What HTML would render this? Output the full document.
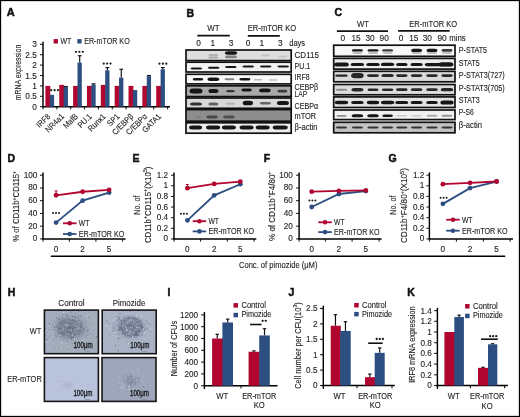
<!DOCTYPE html>
<html><head><meta charset="utf-8"><style>
html,body{margin:0;padding:0;background:#fff;}
#f{position:relative;width:520px;height:417px;overflow:hidden;background:#fff;}
svg{position:absolute;left:0;top:0;font-family:"Liberation Sans", sans-serif;will-change:transform;}
text{stroke:#1e1e1e;stroke-width:0.12px;}
text.pl{stroke:#111;stroke-width:0.5px;}
</style></head><body><div id="f">
<svg width="520" height="417" viewBox="0 0 520 417" fill="#1e1e1e">
<defs>
<filter id="bl" x="-30%" y="-120%" width="160%" height="340%"><feGaussianBlur stdDeviation="0.75"/></filter>
<filter id="sp" x="-10%" y="-10%" width="120%" height="120%"><feGaussianBlur stdDeviation="0.3"/></filter>
<filter id="rb" x="-20%" y="-20%" width="140%" height="140%"><feGaussianBlur stdDeviation="1.2"/></filter>
<radialGradient id="cl"><stop offset="0" stop-color="#4a5268" stop-opacity="0.8"/><stop offset="0.5" stop-color="#5c667e" stop-opacity="0.55"/><stop offset="1" stop-color="#7f889c" stop-opacity="0"/></radialGradient>
</defs>
<rect x="0.5" y="0.5" width="519" height="416" fill="#fff" stroke="#000" stroke-width="1.3"/>
<text x="6.80" y="16.20" font-size="11" font-weight="bold" fill="#111" class="pl">A</text>
<line x1="43.00" y1="41.70" x2="43.00" y2="107.40" stroke="#000" stroke-width="1.45"/>
<line x1="40.00" y1="106.70" x2="43.00" y2="106.70" stroke="#111" stroke-width="1"/>
<text x="36.90" y="109.70" font-size="8.3" text-anchor="end" >0</text>
<line x1="40.00" y1="96.30" x2="43.00" y2="96.30" stroke="#111" stroke-width="1"/>
<text x="36.90" y="99.30" font-size="8.3" text-anchor="end" >0.5</text>
<line x1="40.00" y1="85.90" x2="43.00" y2="85.90" stroke="#111" stroke-width="1"/>
<text x="36.90" y="88.90" font-size="8.3" text-anchor="end" >1</text>
<line x1="40.00" y1="75.50" x2="43.00" y2="75.50" stroke="#111" stroke-width="1"/>
<text x="36.90" y="78.50" font-size="8.3" text-anchor="end" >1.5</text>
<line x1="40.00" y1="65.10" x2="43.00" y2="65.10" stroke="#111" stroke-width="1"/>
<text x="36.90" y="68.10" font-size="8.3" text-anchor="end" >2</text>
<line x1="40.00" y1="54.70" x2="43.00" y2="54.70" stroke="#111" stroke-width="1"/>
<text x="36.90" y="57.70" font-size="8.3" text-anchor="end" >2.5</text>
<line x1="40.00" y1="44.30" x2="43.00" y2="44.30" stroke="#111" stroke-width="1"/>
<text x="36.90" y="47.30" font-size="8.3" text-anchor="end" >3</text>
<line x1="42.30" y1="106.70" x2="170.00" y2="106.70" stroke="#000" stroke-width="1.45"/>
<line x1="43.00" y1="106.70" x2="43.00" y2="109.50" stroke="#111" stroke-width="1"/>
<line x1="56.85" y1="106.70" x2="56.85" y2="109.50" stroke="#111" stroke-width="1"/>
<line x1="70.70" y1="106.70" x2="70.70" y2="109.50" stroke="#111" stroke-width="1"/>
<line x1="84.55" y1="106.70" x2="84.55" y2="109.50" stroke="#111" stroke-width="1"/>
<line x1="98.40" y1="106.70" x2="98.40" y2="109.50" stroke="#111" stroke-width="1"/>
<line x1="112.25" y1="106.70" x2="112.25" y2="109.50" stroke="#111" stroke-width="1"/>
<line x1="126.10" y1="106.70" x2="126.10" y2="109.50" stroke="#111" stroke-width="1"/>
<line x1="139.95" y1="106.70" x2="139.95" y2="109.50" stroke="#111" stroke-width="1"/>
<line x1="153.80" y1="106.70" x2="153.80" y2="109.50" stroke="#111" stroke-width="1"/>
<line x1="167.65" y1="106.70" x2="167.65" y2="109.50" stroke="#111" stroke-width="1"/>
<rect x="45.40" y="85.90" width="4.90" height="20.80" fill="#b0062f" />
<rect x="49.80" y="94.84" width="4.30" height="11.86" fill="#2c4e80" />
<text x="50.82" y="117.00" font-size="8.3" text-anchor="end" textLength="15.83" lengthAdjust="spacingAndGlyphs" transform="rotate(-45 50.82 117.00)" >IRF8</text>
<line x1="65.85" y1="86.94" x2="65.85" y2="86.52" stroke="#111" stroke-width="1.15"/>
<line x1="63.95" y1="86.52" x2="67.75" y2="86.52" stroke="#111" stroke-width="1.15"/>
<rect x="59.25" y="84.86" width="4.90" height="21.84" fill="#b0062f" />
<rect x="63.65" y="86.94" width="4.30" height="19.76" fill="#2c4e80" />
<text x="64.67" y="117.00" font-size="8.3" text-anchor="end" textLength="22.73" lengthAdjust="spacingAndGlyphs" transform="rotate(-45 64.67 117.00)" >NR4a1</text>
<line x1="79.70" y1="62.60" x2="79.70" y2="55.74" stroke="#111" stroke-width="1.15"/>
<line x1="77.80" y1="55.74" x2="81.60" y2="55.74" stroke="#111" stroke-width="1.15"/>
<rect x="73.10" y="85.90" width="4.90" height="20.80" fill="#b0062f" />
<rect x="77.50" y="62.60" width="4.30" height="44.10" fill="#2c4e80" />
<text x="78.53" y="117.00" font-size="8.3" text-anchor="end" textLength="17.05" lengthAdjust="spacingAndGlyphs" transform="rotate(-45 78.53 117.00)" >MafB</text>
<line x1="93.55" y1="84.44" x2="93.55" y2="83.82" stroke="#111" stroke-width="1.15"/>
<line x1="91.65" y1="83.82" x2="95.45" y2="83.82" stroke="#111" stroke-width="1.15"/>
<rect x="86.95" y="85.90" width="4.90" height="20.80" fill="#b0062f" />
<rect x="91.35" y="84.44" width="4.30" height="22.26" fill="#2c4e80" />
<text x="92.38" y="117.00" font-size="8.3" text-anchor="end" textLength="16.24" lengthAdjust="spacingAndGlyphs" transform="rotate(-45 92.38 117.00)" >PU.1</text>
<line x1="107.40" y1="70.30" x2="107.40" y2="67.60" stroke="#111" stroke-width="1.15"/>
<line x1="105.50" y1="67.60" x2="109.30" y2="67.60" stroke="#111" stroke-width="1.15"/>
<rect x="100.80" y="84.86" width="4.90" height="21.84" fill="#b0062f" />
<rect x="105.20" y="70.30" width="4.30" height="36.40" fill="#2c4e80" />
<text x="106.23" y="117.00" font-size="8.3" text-anchor="end" textLength="21.11" lengthAdjust="spacingAndGlyphs" transform="rotate(-45 106.23 117.00)" >Runx1</text>
<line x1="121.25" y1="77.58" x2="121.25" y2="69.26" stroke="#111" stroke-width="1.15"/>
<line x1="119.35" y1="69.26" x2="123.15" y2="69.26" stroke="#111" stroke-width="1.15"/>
<rect x="114.65" y="85.90" width="4.90" height="20.80" fill="#b0062f" />
<rect x="119.05" y="77.58" width="4.30" height="29.12" fill="#2c4e80" />
<text x="120.08" y="117.00" font-size="8.3" text-anchor="end" textLength="13.81" lengthAdjust="spacingAndGlyphs" transform="rotate(-45 120.08 117.00)" >SP1</text>
<rect x="128.50" y="85.90" width="4.90" height="20.80" fill="#b0062f" />
<rect x="132.90" y="90.06" width="4.30" height="16.64" fill="#2c4e80" />
<text x="133.93" y="117.00" font-size="8.3" text-anchor="end" textLength="26.12" lengthAdjust="spacingAndGlyphs" transform="rotate(-45 133.93 117.00)" >C/EBP&#946;</text>
<line x1="148.95" y1="76.12" x2="148.95" y2="75.50" stroke="#111" stroke-width="1.15"/>
<line x1="147.05" y1="75.50" x2="150.85" y2="75.50" stroke="#111" stroke-width="1.15"/>
<rect x="142.35" y="85.90" width="4.90" height="20.80" fill="#b0062f" />
<rect x="146.75" y="76.12" width="4.30" height="30.58" fill="#2c4e80" />
<text x="147.78" y="117.00" font-size="8.3" text-anchor="end" textLength="26.14" lengthAdjust="spacingAndGlyphs" transform="rotate(-45 147.78 117.00)" >C/EBP&#945;</text>
<line x1="162.80" y1="69.26" x2="162.80" y2="67.60" stroke="#111" stroke-width="1.15"/>
<line x1="160.90" y1="67.60" x2="164.70" y2="67.60" stroke="#111" stroke-width="1.15"/>
<rect x="156.20" y="85.90" width="4.90" height="20.80" fill="#b0062f" />
<rect x="160.60" y="69.26" width="4.30" height="37.44" fill="#2c4e80" />
<text x="161.63" y="117.00" font-size="8.3" text-anchor="end" textLength="22.86" lengthAdjust="spacingAndGlyphs" transform="rotate(-45 161.63 117.00)" >GATA1</text>
<circle cx="51.20" cy="90.20" r="1.1" fill="#1a1a1a"/>
<circle cx="54.60" cy="90.20" r="1.1" fill="#1a1a1a"/>
<circle cx="58.00" cy="90.20" r="1.1" fill="#1a1a1a"/>
<circle cx="76.00" cy="51.80" r="1.1" fill="#1a1a1a"/>
<circle cx="79.40" cy="51.80" r="1.1" fill="#1a1a1a"/>
<circle cx="82.80" cy="51.80" r="1.1" fill="#1a1a1a"/>
<circle cx="103.70" cy="63.60" r="1.1" fill="#1a1a1a"/>
<circle cx="107.10" cy="63.60" r="1.1" fill="#1a1a1a"/>
<circle cx="110.50" cy="63.60" r="1.1" fill="#1a1a1a"/>
<circle cx="159.50" cy="63.70" r="1.1" fill="#1a1a1a"/>
<circle cx="162.90" cy="63.70" r="1.1" fill="#1a1a1a"/>
<circle cx="166.30" cy="63.70" r="1.1" fill="#1a1a1a"/>
<rect x="53.60" y="39.10" width="4.40" height="4.40" fill="#b0062f" />
<text x="60.40" y="43.50" font-size="8.6" textLength="10.8" lengthAdjust="spacingAndGlyphs" >WT</text>
<rect x="77.30" y="39.10" width="4.30" height="4.40" fill="#2c4e80" />
<text x="84.20" y="43.50" font-size="8.6" textLength="45.5" lengthAdjust="spacingAndGlyphs" >ER-mTOR KO</text>
<text x="20.90" y="72.50" font-size="8.6" text-anchor="middle" textLength="55.5" lengthAdjust="spacingAndGlyphs" transform="rotate(-90 20.90 72.50)" >mRNA expression</text>
<text x="186.40" y="16.80" font-size="10.5" font-weight="bold" fill="#111" class="pl">B</text>
<text x="213.50" y="31.30" font-size="8.5" text-anchor="middle" textLength="12.4" lengthAdjust="spacingAndGlyphs" >WT</text>
<line x1="197.30" y1="35.60" x2="229.80" y2="35.60" stroke="#111" stroke-width="1.7"/>
<text x="272.00" y="31.40" font-size="8.5" text-anchor="middle" textLength="48.4" lengthAdjust="spacingAndGlyphs" >ER-mTOR KO</text>
<line x1="247.80" y1="35.80" x2="279.80" y2="35.80" stroke="#111" stroke-width="1.7"/>
<text x="198.60" y="45.60" font-size="8.3" text-anchor="middle" >0</text>
<text x="212.70" y="45.60" font-size="8.3" text-anchor="middle" >1</text>
<text x="231.00" y="45.60" font-size="8.3" text-anchor="middle" >3</text>
<text x="248.00" y="45.60" font-size="8.3" text-anchor="middle" >0</text>
<text x="261.90" y="45.60" font-size="8.3" text-anchor="middle" >1</text>
<text x="280.40" y="45.60" font-size="8.3" text-anchor="middle" >3</text>
<text x="289.30" y="45.60" font-size="8.3" textLength="15.8" lengthAdjust="spacingAndGlyphs" >days</text>
<rect x="186.00" y="50.00" width="105.20" height="10.60" fill="#dedede" stroke="#111" stroke-width="1.7"/>
<rect x="186.00" y="62.20" width="105.20" height="9.80" fill="#f3f3f3" stroke="#111" stroke-width="1.7"/>
<rect x="186.00" y="74.30" width="105.20" height="9.60" fill="#f9f9f9" stroke="#111" stroke-width="1.7"/>
<rect x="186.00" y="85.80" width="105.20" height="10.80" fill="#a9a9a9" stroke="#111" stroke-width="1.7"/>
<rect x="186.00" y="98.00" width="105.20" height="10.30" fill="#d9d9d9" stroke="#111" stroke-width="1.7"/>
<rect x="186.00" y="109.60" width="105.20" height="11.60" fill="#8e8e8e" stroke="#111" stroke-width="1.7"/>
<rect x="186.00" y="122.80" width="105.20" height="10.40" fill="#ececec" stroke="#111" stroke-width="1.7"/>
<rect x="224.75" y="51.20" width="12.50" height="3.60" rx="2.80" ry="1.80" fill="rgb(20,20,20)" filter="url(#bl)"/>
<rect x="225.00" y="55.60" width="12.00" height="2.60" rx="2.30" ry="1.30" fill="rgb(130,130,130)" filter="url(#bl)"/>
<rect x="208.40" y="54.00" width="10.00" height="2.00" rx="2.00" ry="1.00" fill="rgb(180,180,180)" filter="url(#bl)"/>
<rect x="208.40" y="56.50" width="10.00" height="2.00" rx="2.00" ry="1.00" fill="rgb(170,170,170)" filter="url(#bl)"/>
<rect x="260.90" y="54.50" width="9.00" height="2.00" rx="2.00" ry="1.00" fill="rgb(196,196,196)" filter="url(#bl)"/>
<rect x="278.40" y="55.50" width="9.00" height="2.00" rx="2.00" ry="1.00" fill="rgb(200,200,200)" filter="url(#bl)"/>
<rect x="190.55" y="67.50" width="11.50" height="2.00" rx="2.00" ry="1.00" fill="rgb(20,20,20)" filter="url(#bl)"/>
<rect x="207.95" y="66.80" width="11.50" height="2.00" rx="2.00" ry="1.00" fill="rgb(20,20,20)" filter="url(#bl)"/>
<rect x="225.05" y="66.00" width="11.50" height="2.00" rx="2.00" ry="1.00" fill="rgb(20,20,20)" filter="url(#bl)"/>
<rect x="242.45" y="65.50" width="11.50" height="2.00" rx="2.00" ry="1.00" fill="rgb(20,20,20)" filter="url(#bl)"/>
<rect x="259.95" y="65.40" width="11.50" height="2.00" rx="2.00" ry="1.00" fill="rgb(20,20,20)" filter="url(#bl)"/>
<rect x="277.45" y="65.40" width="11.50" height="2.00" rx="2.00" ry="1.00" fill="rgb(20,20,20)" filter="url(#bl)"/>
<rect x="192.75" y="78.10" width="10.50" height="2.40" rx="2.20" ry="1.20" fill="rgb(20,20,20)" filter="url(#bl)"/>
<rect x="207.40" y="77.50" width="12.00" height="3.60" rx="2.80" ry="1.80" fill="rgb(20,20,20)" filter="url(#bl)"/>
<rect x="224.50" y="78.30" width="10.00" height="2.00" rx="2.00" ry="1.00" fill="rgb(130,130,130)" filter="url(#bl)"/>
<rect x="239.40" y="78.10" width="11.00" height="2.40" rx="2.20" ry="1.20" fill="rgb(20,20,20)" filter="url(#bl)"/>
<rect x="253.50" y="79.00" width="9.00" height="1.60" rx="1.80" ry="0.80" fill="rgb(180,180,180)" filter="url(#bl)"/>
<rect x="268.50" y="79.20" width="9.00" height="1.60" rx="1.80" ry="0.80" fill="rgb(190,190,190)" filter="url(#bl)"/>
<rect x="189.50" y="88.50" width="13.00" height="5.00" rx="3.50" ry="2.50" fill="rgb(20,20,20)" filter="url(#bl)"/>
<rect x="208.40" y="89.00" width="10.00" height="4.00" rx="3.00" ry="2.00" fill="rgb(20,20,20)" filter="url(#bl)"/>
<rect x="226.20" y="90.10" width="8.60" height="2.20" rx="2.10" ry="1.10" fill="rgb(50,50,50)" filter="url(#bl)"/>
<rect x="241.35" y="88.60" width="10.50" height="2.80" rx="2.40" ry="1.40" fill="rgb(20,20,20)" filter="url(#bl)"/>
<rect x="259.15" y="88.50" width="11.50" height="3.80" rx="2.90" ry="1.90" fill="rgb(20,20,20)" filter="url(#bl)"/>
<rect x="277.40" y="89.80" width="10.00" height="2.80" rx="2.40" ry="1.40" fill="rgb(59,59,59)" filter="url(#bl)"/>
<rect x="190.00" y="102.40" width="12.00" height="3.00" rx="2.50" ry="1.50" fill="rgb(50,50,50)" filter="url(#bl)"/>
<rect x="208.40" y="102.40" width="10.00" height="3.00" rx="2.50" ry="1.50" fill="rgb(100,100,100)" filter="url(#bl)"/>
<rect x="225.80" y="102.80" width="9.40" height="2.00" rx="2.00" ry="1.00" fill="rgb(180,180,180)" filter="url(#bl)"/>
<rect x="242.75" y="100.70" width="10.30" height="4.60" rx="3.30" ry="2.30" fill="rgb(20,20,20)" filter="url(#bl)"/>
<rect x="259.90" y="101.90" width="11.00" height="2.60" rx="2.30" ry="1.30" fill="rgb(100,100,100)" filter="url(#bl)"/>
<rect x="276.90" y="101.00" width="12.00" height="4.00" rx="3.00" ry="2.00" fill="rgb(20,20,20)" filter="url(#bl)"/>
<rect x="195.05" y="116.10" width="6.50" height="2.20" rx="2.10" ry="1.10" fill="rgb(130,130,130)" filter="url(#bl)"/>
<rect x="206.20" y="115.60" width="11.60" height="2.80" rx="2.40" ry="1.40" fill="rgb(70,70,70)" filter="url(#bl)"/>
<rect x="223.15" y="115.60" width="11.70" height="2.80" rx="2.40" ry="1.40" fill="rgb(80,80,80)" filter="url(#bl)"/>
<rect x="189.10" y="125.60" width="13.00" height="3.80" rx="2.90" ry="1.90" fill="rgb(20,20,20)" filter="url(#bl)"/>
<rect x="206.10" y="125.60" width="14.00" height="3.80" rx="2.90" ry="1.90" fill="rgb(20,20,20)" filter="url(#bl)"/>
<rect x="221.90" y="125.60" width="14.00" height="3.80" rx="2.90" ry="1.90" fill="rgb(20,20,20)" filter="url(#bl)"/>
<rect x="239.60" y="125.60" width="14.00" height="3.80" rx="2.90" ry="1.90" fill="rgb(20,20,20)" filter="url(#bl)"/>
<rect x="255.70" y="125.60" width="14.00" height="3.80" rx="2.90" ry="1.90" fill="rgb(20,20,20)" filter="url(#bl)"/>
<rect x="272.70" y="125.60" width="15.00" height="3.80" rx="2.90" ry="1.90" fill="rgb(20,20,20)" filter="url(#bl)"/>
<text x="294.60" y="57.80" font-size="8.2" textLength="24.3" lengthAdjust="spacingAndGlyphs" >CD115</text>
<text x="294.60" y="69.00" font-size="8.2" textLength="15.6" lengthAdjust="spacingAndGlyphs" >PU.1</text>
<text x="294.60" y="79.70" font-size="8.2" textLength="15.0" lengthAdjust="spacingAndGlyphs" >IRF8</text>
<text x="294.60" y="89.90" font-size="8.2" textLength="23.6" lengthAdjust="spacingAndGlyphs" >CEBP&#946;</text>
<text x="294.60" y="97.20" font-size="8.2" textLength="12.6" lengthAdjust="spacingAndGlyphs" >LAP</text>
<text x="294.60" y="108.80" font-size="8.2" textLength="23.6" lengthAdjust="spacingAndGlyphs" >CEBP&#945;</text>
<text x="294.60" y="119.30" font-size="8.2" textLength="21.6" lengthAdjust="spacingAndGlyphs" >mTOR</text>
<text x="294.60" y="129.90" font-size="8.2" textLength="23.0" lengthAdjust="spacingAndGlyphs" >&#946;-actin</text>
<text x="334.50" y="16.20" font-size="10.5" font-weight="bold" fill="#111" class="pl">C</text>
<text x="363.00" y="26.50" font-size="8.5" text-anchor="middle" textLength="12.0" lengthAdjust="spacingAndGlyphs" >WT</text>
<line x1="336.90" y1="31.10" x2="388.00" y2="31.10" stroke="#111" stroke-width="1.7"/>
<text x="433.20" y="27.20" font-size="8.5" text-anchor="middle" textLength="48.0" lengthAdjust="spacingAndGlyphs" >ER-mTOR KO</text>
<line x1="398.10" y1="30.90" x2="449.60" y2="30.90" stroke="#111" stroke-width="1.7"/>
<text x="342.90" y="41.00" font-size="8.3" text-anchor="middle" >0</text>
<text x="356.00" y="41.00" font-size="8.3" text-anchor="middle" >15</text>
<text x="370.00" y="41.00" font-size="8.3" text-anchor="middle" >30</text>
<text x="384.20" y="41.00" font-size="8.3" text-anchor="middle" >90</text>
<text x="401.10" y="41.00" font-size="8.3" text-anchor="middle" >0</text>
<text x="413.80" y="41.00" font-size="8.3" text-anchor="middle" >15</text>
<text x="427.30" y="41.00" font-size="8.3" text-anchor="middle" >30</text>
<text x="442.10" y="41.00" font-size="8.3" text-anchor="middle" >90</text>
<text x="449.20" y="41.00" font-size="8.3" textLength="16.6" lengthAdjust="spacingAndGlyphs" >mins</text>
<rect x="333.70" y="45.20" width="121.30" height="11.10" fill="#f8f8f8" stroke="#111" stroke-width="1.7"/>
<rect x="333.70" y="58.40" width="121.30" height="10.70" fill="#ececec" stroke="#111" stroke-width="1.7"/>
<rect x="333.70" y="71.30" width="121.30" height="10.50" fill="#d9d9d9" stroke="#111" stroke-width="1.7"/>
<rect x="333.70" y="84.50" width="121.30" height="10.30" fill="#dcdcdc" stroke="#111" stroke-width="1.7"/>
<rect x="333.70" y="96.90" width="121.30" height="10.60" fill="#e2e2e2" stroke="#111" stroke-width="1.7"/>
<rect x="333.70" y="110.00" width="121.30" height="9.60" fill="#f0f0f0" stroke="#111" stroke-width="1.7"/>
<rect x="333.70" y="122.30" width="121.30" height="10.50" fill="#c2c2c2" stroke="#111" stroke-width="1.7"/>
<rect x="351.85" y="49.20" width="11.10" height="2.40" rx="2.20" ry="1.20" fill="rgb(20,20,20)" filter="url(#bl)"/>
<rect x="352.35" y="52.20" width="10.10" height="1.60" rx="1.80" ry="0.80" fill="rgb(170,170,170)" filter="url(#bl)"/>
<rect x="367.45" y="49.20" width="11.10" height="2.40" rx="2.20" ry="1.20" fill="rgb(20,20,20)" filter="url(#bl)"/>
<rect x="367.95" y="52.20" width="10.10" height="1.60" rx="1.80" ry="0.80" fill="rgb(170,170,170)" filter="url(#bl)"/>
<rect x="382.05" y="49.20" width="11.10" height="2.40" rx="2.20" ry="1.20" fill="rgb(59,59,59)" filter="url(#bl)"/>
<rect x="382.55" y="52.20" width="10.10" height="1.60" rx="1.80" ry="0.80" fill="rgb(180,180,180)" filter="url(#bl)"/>
<rect x="411.05" y="48.70" width="11.10" height="3.40" rx="2.70" ry="1.70" fill="rgb(20,20,20)" filter="url(#bl)"/>
<rect x="411.55" y="52.20" width="10.10" height="1.60" rx="1.80" ry="0.80" fill="rgb(170,170,170)" filter="url(#bl)"/>
<rect x="426.45" y="48.70" width="11.10" height="3.40" rx="2.70" ry="1.70" fill="rgb(20,20,20)" filter="url(#bl)"/>
<rect x="426.95" y="52.20" width="10.10" height="1.60" rx="1.80" ry="0.80" fill="rgb(170,170,170)" filter="url(#bl)"/>
<rect x="441.45" y="49.10" width="11.10" height="2.60" rx="2.30" ry="1.30" fill="rgb(59,59,59)" filter="url(#bl)"/>
<rect x="441.95" y="52.20" width="10.10" height="1.60" rx="1.80" ry="0.80" fill="rgb(180,180,180)" filter="url(#bl)"/>
<rect x="334.20" y="62.40" width="14.60" height="4.00" rx="3.00" ry="2.00" fill="rgb(20,20,20)" filter="url(#bl)"/>
<rect x="350.60" y="62.90" width="13.60" height="3.00" rx="2.50" ry="1.50" fill="rgb(20,20,20)" filter="url(#bl)"/>
<rect x="366.20" y="62.90" width="13.60" height="3.00" rx="2.50" ry="1.50" fill="rgb(20,20,20)" filter="url(#bl)"/>
<rect x="380.80" y="62.70" width="13.60" height="3.40" rx="2.70" ry="1.70" fill="rgb(20,20,20)" filter="url(#bl)"/>
<rect x="396.00" y="62.90" width="11.60" height="3.00" rx="2.50" ry="1.50" fill="rgb(20,20,20)" filter="url(#bl)"/>
<rect x="410.45" y="62.90" width="12.30" height="3.00" rx="2.50" ry="1.50" fill="rgb(20,20,20)" filter="url(#bl)"/>
<rect x="424.70" y="63.00" width="28.60" height="3.20" rx="2.60" ry="1.60" fill="rgb(20,20,20)" filter="url(#bl)"/>
<rect x="438.70" y="62.30" width="14.60" height="4.20" rx="3.10" ry="2.10" fill="rgb(20,20,20)" filter="url(#bl)"/>
<rect x="335.20" y="74.40" width="12.60" height="2.40" rx="2.20" ry="1.20" fill="rgb(40,40,40)" filter="url(#bl)"/>
<rect x="351.10" y="73.00" width="12.60" height="5.20" rx="3.60" ry="2.60" fill="rgb(40,40,40)" filter="url(#bl)"/>
<rect x="366.95" y="74.30" width="12.10" height="2.60" rx="2.30" ry="1.30" fill="rgb(40,40,40)" filter="url(#bl)"/>
<rect x="381.30" y="74.10" width="12.60" height="3.00" rx="2.50" ry="1.50" fill="rgb(40,40,40)" filter="url(#bl)"/>
<rect x="396.00" y="74.30" width="11.60" height="2.60" rx="2.30" ry="1.30" fill="rgb(40,40,40)" filter="url(#bl)"/>
<rect x="410.80" y="74.30" width="11.60" height="2.60" rx="2.30" ry="1.30" fill="rgb(40,40,40)" filter="url(#bl)"/>
<rect x="426.20" y="74.20" width="11.60" height="2.80" rx="2.40" ry="1.40" fill="rgb(40,40,40)" filter="url(#bl)"/>
<rect x="441.20" y="74.20" width="11.60" height="2.80" rx="2.40" ry="1.40" fill="rgb(40,40,40)" filter="url(#bl)"/>
<rect x="335.70" y="88.70" width="11.60" height="2.00" rx="2.00" ry="1.00" fill="rgb(139,139,139)" filter="url(#bl)"/>
<rect x="351.30" y="87.90" width="12.20" height="3.60" rx="2.80" ry="1.80" fill="rgb(40,40,40)" filter="url(#bl)"/>
<rect x="367.50" y="88.40" width="11.00" height="2.60" rx="2.30" ry="1.30" fill="rgb(40,40,40)" filter="url(#bl)"/>
<rect x="381.80" y="88.40" width="11.60" height="2.60" rx="2.30" ry="1.30" fill="rgb(40,40,40)" filter="url(#bl)"/>
<rect x="396.00" y="88.30" width="11.60" height="2.80" rx="2.40" ry="1.40" fill="rgb(40,40,40)" filter="url(#bl)"/>
<rect x="410.80" y="88.30" width="11.60" height="2.80" rx="2.40" ry="1.40" fill="rgb(40,40,40)" filter="url(#bl)"/>
<rect x="426.20" y="88.30" width="11.60" height="2.80" rx="2.40" ry="1.40" fill="rgb(40,40,40)" filter="url(#bl)"/>
<rect x="440.70" y="88.10" width="12.60" height="3.20" rx="2.60" ry="1.60" fill="rgb(40,40,40)" filter="url(#bl)"/>
<rect x="334.70" y="100.70" width="13.60" height="3.60" rx="2.80" ry="1.80" fill="rgb(20,20,20)" filter="url(#bl)"/>
<rect x="351.10" y="100.90" width="12.60" height="3.20" rx="2.60" ry="1.60" fill="rgb(20,20,20)" filter="url(#bl)"/>
<rect x="366.70" y="100.80" width="12.60" height="3.40" rx="2.70" ry="1.70" fill="rgb(20,20,20)" filter="url(#bl)"/>
<rect x="380.80" y="100.70" width="13.60" height="3.60" rx="2.80" ry="1.80" fill="rgb(20,20,20)" filter="url(#bl)"/>
<rect x="395.25" y="100.90" width="13.10" height="3.20" rx="2.60" ry="1.60" fill="rgb(20,20,20)" filter="url(#bl)"/>
<rect x="410.55" y="100.90" width="12.10" height="3.20" rx="2.60" ry="1.60" fill="rgb(20,20,20)" filter="url(#bl)"/>
<rect x="426.20" y="100.90" width="11.60" height="3.20" rx="2.60" ry="1.60" fill="rgb(20,20,20)" filter="url(#bl)"/>
<rect x="440.45" y="100.50" width="13.10" height="4.00" rx="3.00" ry="2.00" fill="rgb(20,20,20)" filter="url(#bl)"/>
<rect x="336.40" y="114.90" width="10.20" height="1.80" rx="1.90" ry="0.90" fill="rgb(140,140,140)" filter="url(#bl)"/>
<rect x="351.60" y="114.30" width="11.60" height="3.00" rx="2.50" ry="1.50" fill="rgb(20,20,20)" filter="url(#bl)"/>
<rect x="367.20" y="114.30" width="11.60" height="3.00" rx="2.50" ry="1.50" fill="rgb(20,20,20)" filter="url(#bl)"/>
<rect x="382.30" y="114.50" width="10.60" height="2.60" rx="2.30" ry="1.30" fill="rgb(20,20,20)" filter="url(#bl)"/>
<rect x="396.50" y="115.05" width="10.60" height="1.50" rx="1.75" ry="0.75" fill="rgb(200,200,200)" filter="url(#bl)"/>
<rect x="411.30" y="115.05" width="10.60" height="1.50" rx="1.75" ry="0.75" fill="rgb(200,200,200)" filter="url(#bl)"/>
<rect x="426.70" y="114.80" width="10.60" height="2.00" rx="2.00" ry="1.00" fill="rgb(170,170,170)" filter="url(#bl)"/>
<rect x="441.70" y="114.80" width="10.60" height="2.00" rx="2.00" ry="1.00" fill="rgb(150,150,150)" filter="url(#bl)"/>
<rect x="335.95" y="126.40" width="11.10" height="2.20" rx="2.10" ry="1.10" fill="rgb(50,50,50)" filter="url(#bl)"/>
<rect x="351.85" y="126.40" width="11.10" height="2.20" rx="2.10" ry="1.10" fill="rgb(50,50,50)" filter="url(#bl)"/>
<rect x="367.45" y="126.40" width="11.10" height="2.20" rx="2.10" ry="1.10" fill="rgb(50,50,50)" filter="url(#bl)"/>
<rect x="382.05" y="126.40" width="11.10" height="2.20" rx="2.10" ry="1.10" fill="rgb(50,50,50)" filter="url(#bl)"/>
<rect x="396.25" y="126.40" width="11.10" height="2.20" rx="2.10" ry="1.10" fill="rgb(50,50,50)" filter="url(#bl)"/>
<rect x="411.05" y="126.40" width="11.10" height="2.20" rx="2.10" ry="1.10" fill="rgb(50,50,50)" filter="url(#bl)"/>
<rect x="426.45" y="126.40" width="11.10" height="2.20" rx="2.10" ry="1.10" fill="rgb(50,50,50)" filter="url(#bl)"/>
<rect x="441.45" y="126.40" width="11.10" height="2.20" rx="2.10" ry="1.10" fill="rgb(50,50,50)" filter="url(#bl)"/>
<text x="458.80" y="52.80" font-size="8.5" textLength="28.3" lengthAdjust="spacingAndGlyphs" >P-STAT5</text>
<text x="458.80" y="65.50" font-size="8.5" textLength="21.0" lengthAdjust="spacingAndGlyphs" >STAT5</text>
<text x="458.80" y="78.20" font-size="8.5" textLength="46.0" lengthAdjust="spacingAndGlyphs" >P-STAT3(727)</text>
<text x="458.80" y="90.70" font-size="8.5" textLength="46.0" lengthAdjust="spacingAndGlyphs" >P-STAT3(705)</text>
<text x="458.80" y="102.90" font-size="8.5" textLength="21.0" lengthAdjust="spacingAndGlyphs" >STAT3</text>
<text x="458.80" y="115.10" font-size="8.5" textLength="15.0" lengthAdjust="spacingAndGlyphs" >P-S6</text>
<text x="458.80" y="128.30" font-size="8.5" textLength="23.2" lengthAdjust="spacingAndGlyphs" >&#946;-actin</text>
<text x="7.60" y="162.40" font-size="10.5" font-weight="bold" fill="#111" class="pl">D</text>
<line x1="43.00" y1="172.40" x2="43.00" y2="239.60" stroke="#000" stroke-width="1.45"/>
<line x1="40.00" y1="238.90" x2="43.00" y2="238.90" stroke="#111" stroke-width="1"/>
<text x="37.40" y="241.40" font-size="8.2" text-anchor="end" >0</text>
<line x1="40.00" y1="226.16" x2="43.00" y2="226.16" stroke="#111" stroke-width="1"/>
<text x="37.40" y="228.66" font-size="8.2" text-anchor="end" >20</text>
<line x1="40.00" y1="213.42" x2="43.00" y2="213.42" stroke="#111" stroke-width="1"/>
<text x="37.40" y="215.92" font-size="8.2" text-anchor="end" >40</text>
<line x1="40.00" y1="200.68" x2="43.00" y2="200.68" stroke="#111" stroke-width="1"/>
<text x="37.40" y="203.18" font-size="8.2" text-anchor="end" >60</text>
<line x1="40.00" y1="187.94" x2="43.00" y2="187.94" stroke="#111" stroke-width="1"/>
<text x="37.40" y="190.44" font-size="8.2" text-anchor="end" >80</text>
<line x1="40.00" y1="175.20" x2="43.00" y2="175.20" stroke="#111" stroke-width="1"/>
<text x="37.40" y="177.70" font-size="8.2" text-anchor="end" >100</text>
<line x1="42.30" y1="238.90" x2="125.60" y2="238.90" stroke="#000" stroke-width="1.45"/>
<line x1="43.00" y1="238.90" x2="43.00" y2="241.70" stroke="#111" stroke-width="1"/>
<line x1="69.30" y1="238.90" x2="69.30" y2="241.70" stroke="#111" stroke-width="1"/>
<line x1="95.90" y1="238.90" x2="95.90" y2="241.70" stroke="#111" stroke-width="1"/>
<line x1="122.60" y1="238.90" x2="122.60" y2="241.70" stroke="#111" stroke-width="1"/>
<text x="56.10" y="251.70" font-size="8.2" text-anchor="middle" >0</text>
<text x="82.60" y="251.70" font-size="8.2" text-anchor="middle" >2</text>
<text x="109.10" y="251.70" font-size="8.2" text-anchor="middle" >5</text>
<line x1="56.10" y1="195.27" x2="56.10" y2="190.93" stroke="#b0062f" stroke-width="1"/>
<line x1="54.60" y1="190.93" x2="57.60" y2="190.93" stroke="#b0062f" stroke-width="1"/>
<polyline points="56.10,222.59 82.60,200.68 109.10,192.59" fill="none" stroke="#2c4e80" stroke-width="1.8"/>
<polyline points="56.10,195.27 82.60,191.76 109.10,189.85" fill="none" stroke="#b0062f" stroke-width="1.8"/>
<circle cx="56.10" cy="222.59" r="2.4" fill="#2c4e80"/>
<circle cx="82.60" cy="200.68" r="2.4" fill="#2c4e80"/>
<circle cx="109.10" cy="192.59" r="2.4" fill="#2c4e80"/>
<circle cx="56.10" cy="195.27" r="2.4" fill="#b0062f"/>
<circle cx="82.60" cy="191.76" r="2.4" fill="#b0062f"/>
<circle cx="109.10" cy="189.85" r="2.4" fill="#b0062f"/>
<circle cx="53.00" cy="213.00" r="1.0" fill="#1a1a1a"/>
<circle cx="56.00" cy="213.00" r="1.0" fill="#1a1a1a"/>
<circle cx="59.00" cy="213.00" r="1.0" fill="#1a1a1a"/>
<line x1="63.00" y1="223.30" x2="76.50" y2="223.30" stroke="#b0062f" stroke-width="1.8"/>
<circle cx="69.75" cy="223.30" r="2.3" fill="#b0062f"/>
<line x1="63.00" y1="234.00" x2="76.50" y2="234.00" stroke="#2c4e80" stroke-width="1.8"/>
<circle cx="69.75" cy="234.00" r="2.3" fill="#2c4e80"/>
<text x="78.80" y="226.30" font-size="8.5" textLength="10.5" lengthAdjust="spacingAndGlyphs" >WT</text>
<text x="78.80" y="237.00" font-size="8.5" textLength="45.5" lengthAdjust="spacingAndGlyphs" >ER-mTOR KO</text>
<text x="19.50" y="206.30" font-size="8.9" text-anchor="middle" textLength="71" lengthAdjust="spacingAndGlyphs" transform="rotate(-90 19.50 206.30)" fill="#1e1e1e">% of CD11b<tspan dy="-3.6" font-size="6">+</tspan><tspan dy="3.6">CD115</tspan><tspan dy="-3.6" font-size="6">+</tspan></text>
<text x="132.60" y="161.60" font-size="10.5" font-weight="bold" fill="#111" class="pl">E</text>
<line x1="174.00" y1="172.40" x2="174.00" y2="239.60" stroke="#000" stroke-width="1.45"/>
<line x1="171.00" y1="238.90" x2="174.00" y2="238.90" stroke="#111" stroke-width="1"/>
<text x="168.10" y="241.40" font-size="8.2" text-anchor="end" >0</text>
<line x1="171.00" y1="228.28" x2="174.00" y2="228.28" stroke="#111" stroke-width="1"/>
<text x="168.10" y="230.78" font-size="8.2" text-anchor="end" >0.2</text>
<line x1="171.00" y1="217.67" x2="174.00" y2="217.67" stroke="#111" stroke-width="1"/>
<text x="168.10" y="220.17" font-size="8.2" text-anchor="end" >0.4</text>
<line x1="171.00" y1="207.05" x2="174.00" y2="207.05" stroke="#111" stroke-width="1"/>
<text x="168.10" y="209.55" font-size="8.2" text-anchor="end" >0.6</text>
<line x1="171.00" y1="196.43" x2="174.00" y2="196.43" stroke="#111" stroke-width="1"/>
<text x="168.10" y="198.93" font-size="8.2" text-anchor="end" >0.8</text>
<line x1="171.00" y1="185.82" x2="174.00" y2="185.82" stroke="#111" stroke-width="1"/>
<text x="168.10" y="188.32" font-size="8.2" text-anchor="end" >1</text>
<line x1="171.00" y1="175.20" x2="174.00" y2="175.20" stroke="#111" stroke-width="1"/>
<text x="168.10" y="177.70" font-size="8.2" text-anchor="end" >1.2</text>
<line x1="173.30" y1="238.90" x2="256.30" y2="238.90" stroke="#000" stroke-width="1.45"/>
<line x1="174.00" y1="238.90" x2="174.00" y2="241.70" stroke="#111" stroke-width="1"/>
<line x1="200.60" y1="238.90" x2="200.60" y2="241.70" stroke="#111" stroke-width="1"/>
<line x1="227.30" y1="238.90" x2="227.30" y2="241.70" stroke="#111" stroke-width="1"/>
<line x1="254.00" y1="238.90" x2="254.00" y2="241.70" stroke="#111" stroke-width="1"/>
<text x="187.40" y="251.70" font-size="8.2" text-anchor="middle" >0</text>
<text x="214.20" y="251.70" font-size="8.2" text-anchor="middle" >2</text>
<text x="240.30" y="251.70" font-size="8.2" text-anchor="middle" >5</text>
<line x1="187.40" y1="188.21" x2="187.40" y2="184.49" stroke="#b0062f" stroke-width="1"/>
<line x1="185.90" y1="184.49" x2="188.90" y2="184.49" stroke="#b0062f" stroke-width="1"/>
<polyline points="187.40,220.32 214.20,195.37 240.30,184.22" fill="none" stroke="#2c4e80" stroke-width="1.8"/>
<polyline points="187.40,188.21 214.20,183.96 240.30,181.57" fill="none" stroke="#b0062f" stroke-width="1.8"/>
<circle cx="187.40" cy="220.32" r="2.4" fill="#2c4e80"/>
<circle cx="214.20" cy="195.37" r="2.4" fill="#2c4e80"/>
<circle cx="240.30" cy="184.22" r="2.4" fill="#2c4e80"/>
<circle cx="187.40" cy="188.21" r="2.4" fill="#b0062f"/>
<circle cx="214.20" cy="183.96" r="2.4" fill="#b0062f"/>
<circle cx="240.30" cy="181.57" r="2.4" fill="#b0062f"/>
<circle cx="180.90" cy="213.70" r="1.0" fill="#1a1a1a"/>
<circle cx="183.90" cy="213.70" r="1.0" fill="#1a1a1a"/>
<circle cx="186.90" cy="213.70" r="1.0" fill="#1a1a1a"/>
<line x1="192.70" y1="221.20" x2="206.20" y2="221.20" stroke="#b0062f" stroke-width="1.8"/>
<circle cx="199.45" cy="221.20" r="2.3" fill="#b0062f"/>
<line x1="192.70" y1="231.40" x2="206.20" y2="231.40" stroke="#2c4e80" stroke-width="1.8"/>
<circle cx="199.45" cy="231.40" r="2.3" fill="#2c4e80"/>
<text x="208.50" y="224.20" font-size="8.5" textLength="10.5" lengthAdjust="spacingAndGlyphs" >WT</text>
<text x="208.50" y="234.40" font-size="8.5" textLength="45.5" lengthAdjust="spacingAndGlyphs" >ER-mTOR KO</text>
<text x="140.20" y="205.20" font-size="8.9" text-anchor="middle" textLength="19.2" lengthAdjust="spacingAndGlyphs" transform="rotate(-90 140.20 205.20)" fill="#1e1e1e">No. of</text>
<text x="150.90" y="204.80" font-size="8.9" text-anchor="middle" textLength="76.6" lengthAdjust="spacingAndGlyphs" transform="rotate(-90 150.90 204.80)" fill="#1e1e1e">CD11b<tspan dy="-3.6" font-size="6">+</tspan><tspan dy="3.6">CD115</tspan><tspan dy="-3.6" font-size="6">+</tspan><tspan dy="3.6">(X10</tspan><tspan dy="-3.6" font-size="6">5</tspan><tspan dy="3.6">)</tspan></text>
<text x="263.80" y="162.40" font-size="10.5" font-weight="bold" fill="#111" class="pl">F</text>
<line x1="299.10" y1="172.40" x2="299.10" y2="239.60" stroke="#000" stroke-width="1.45"/>
<line x1="296.10" y1="238.90" x2="299.10" y2="238.90" stroke="#111" stroke-width="1"/>
<text x="292.90" y="241.40" font-size="8.2" text-anchor="end" >0</text>
<line x1="296.10" y1="226.16" x2="299.10" y2="226.16" stroke="#111" stroke-width="1"/>
<text x="292.90" y="228.66" font-size="8.2" text-anchor="end" >20</text>
<line x1="296.10" y1="213.42" x2="299.10" y2="213.42" stroke="#111" stroke-width="1"/>
<text x="292.90" y="215.92" font-size="8.2" text-anchor="end" >40</text>
<line x1="296.10" y1="200.68" x2="299.10" y2="200.68" stroke="#111" stroke-width="1"/>
<text x="292.90" y="203.18" font-size="8.2" text-anchor="end" >60</text>
<line x1="296.10" y1="187.94" x2="299.10" y2="187.94" stroke="#111" stroke-width="1"/>
<text x="292.90" y="190.44" font-size="8.2" text-anchor="end" >80</text>
<line x1="296.10" y1="175.20" x2="299.10" y2="175.20" stroke="#111" stroke-width="1"/>
<text x="292.90" y="177.70" font-size="8.2" text-anchor="end" >100</text>
<line x1="298.40" y1="238.90" x2="381.60" y2="238.90" stroke="#000" stroke-width="1.45"/>
<line x1="299.10" y1="238.90" x2="299.10" y2="241.70" stroke="#111" stroke-width="1"/>
<line x1="325.40" y1="238.90" x2="325.40" y2="241.70" stroke="#111" stroke-width="1"/>
<line x1="352.10" y1="238.90" x2="352.10" y2="241.70" stroke="#111" stroke-width="1"/>
<line x1="379.10" y1="238.90" x2="379.10" y2="241.70" stroke="#111" stroke-width="1"/>
<text x="311.70" y="251.70" font-size="8.2" text-anchor="middle" >0</text>
<text x="338.90" y="251.70" font-size="8.2" text-anchor="middle" >2</text>
<text x="365.80" y="251.70" font-size="8.2" text-anchor="middle" >5</text>
<polyline points="311.70,206.99 338.90,193.99 365.80,191.12" fill="none" stroke="#2c4e80" stroke-width="1.8"/>
<polyline points="311.70,191.70 338.90,190.81 365.80,190.42" fill="none" stroke="#b0062f" stroke-width="1.8"/>
<circle cx="311.70" cy="206.99" r="2.4" fill="#2c4e80"/>
<circle cx="338.90" cy="193.99" r="2.4" fill="#2c4e80"/>
<circle cx="365.80" cy="191.12" r="2.4" fill="#2c4e80"/>
<circle cx="311.70" cy="191.70" r="2.4" fill="#b0062f"/>
<circle cx="338.90" cy="190.81" r="2.4" fill="#b0062f"/>
<circle cx="365.80" cy="190.42" r="2.4" fill="#b0062f"/>
<circle cx="309.40" cy="200.40" r="1.0" fill="#1a1a1a"/>
<circle cx="312.40" cy="200.40" r="1.0" fill="#1a1a1a"/>
<circle cx="315.40" cy="200.40" r="1.0" fill="#1a1a1a"/>
<line x1="318.30" y1="222.30" x2="331.80" y2="222.30" stroke="#b0062f" stroke-width="1.8"/>
<circle cx="325.05" cy="222.30" r="2.3" fill="#b0062f"/>
<line x1="318.30" y1="232.10" x2="331.80" y2="232.10" stroke="#2c4e80" stroke-width="1.8"/>
<circle cx="325.05" cy="232.10" r="2.3" fill="#2c4e80"/>
<text x="334.10" y="225.30" font-size="8.5" textLength="10.5" lengthAdjust="spacingAndGlyphs" >WT</text>
<text x="334.10" y="235.10" font-size="8.5" textLength="45.5" lengthAdjust="spacingAndGlyphs" >ER-mTOR KO</text>
<text x="274.80" y="206.20" font-size="8.9" text-anchor="middle" textLength="69.5" lengthAdjust="spacingAndGlyphs" transform="rotate(-90 274.80 206.20)" fill="#1e1e1e">% of CD11b<tspan dy="-3.6" font-size="6">+</tspan><tspan dy="3.6">F4/80</tspan><tspan dy="-3.6" font-size="6">+</tspan></text>
<text x="388.60" y="162.00" font-size="10.5" font-weight="bold" fill="#111" class="pl">G</text>
<line x1="429.40" y1="172.40" x2="429.40" y2="239.60" stroke="#000" stroke-width="1.45"/>
<line x1="426.40" y1="238.90" x2="429.40" y2="238.90" stroke="#111" stroke-width="1"/>
<text x="424.40" y="241.40" font-size="8.2" text-anchor="end" >0</text>
<line x1="426.40" y1="228.28" x2="429.40" y2="228.28" stroke="#111" stroke-width="1"/>
<text x="424.40" y="230.78" font-size="8.2" text-anchor="end" >0.2</text>
<line x1="426.40" y1="217.67" x2="429.40" y2="217.67" stroke="#111" stroke-width="1"/>
<text x="424.40" y="220.17" font-size="8.2" text-anchor="end" >0.4</text>
<line x1="426.40" y1="207.05" x2="429.40" y2="207.05" stroke="#111" stroke-width="1"/>
<text x="424.40" y="209.55" font-size="8.2" text-anchor="end" >0.6</text>
<line x1="426.40" y1="196.43" x2="429.40" y2="196.43" stroke="#111" stroke-width="1"/>
<text x="424.40" y="198.93" font-size="8.2" text-anchor="end" >0.8</text>
<line x1="426.40" y1="185.82" x2="429.40" y2="185.82" stroke="#111" stroke-width="1"/>
<text x="424.40" y="188.32" font-size="8.2" text-anchor="end" >1</text>
<line x1="426.40" y1="175.20" x2="429.40" y2="175.20" stroke="#111" stroke-width="1"/>
<text x="424.40" y="177.70" font-size="8.2" text-anchor="end" >1.2</text>
<line x1="428.70" y1="238.90" x2="513.00" y2="238.90" stroke="#000" stroke-width="1.45"/>
<line x1="429.40" y1="238.90" x2="429.40" y2="241.70" stroke="#111" stroke-width="1"/>
<line x1="456.40" y1="238.90" x2="456.40" y2="241.70" stroke="#111" stroke-width="1"/>
<line x1="483.40" y1="238.90" x2="483.40" y2="241.70" stroke="#111" stroke-width="1"/>
<line x1="510.10" y1="238.90" x2="510.10" y2="241.70" stroke="#111" stroke-width="1"/>
<text x="442.90" y="251.70" font-size="8.2" text-anchor="middle" >0</text>
<text x="470.00" y="251.70" font-size="8.2" text-anchor="middle" >2</text>
<text x="496.60" y="251.70" font-size="8.2" text-anchor="middle" >5</text>
<polyline points="442.90,203.86 470.00,188.10 496.60,181.52" fill="none" stroke="#2c4e80" stroke-width="1.8"/>
<polyline points="442.90,184.22 470.00,182.79 496.60,181.52" fill="none" stroke="#b0062f" stroke-width="1.8"/>
<circle cx="442.90" cy="203.86" r="2.4" fill="#2c4e80"/>
<circle cx="470.00" cy="188.10" r="2.4" fill="#2c4e80"/>
<circle cx="496.60" cy="181.52" r="2.4" fill="#2c4e80"/>
<circle cx="442.90" cy="184.22" r="2.4" fill="#b0062f"/>
<circle cx="470.00" cy="182.79" r="2.4" fill="#b0062f"/>
<circle cx="496.60" cy="181.52" r="2.4" fill="#b0062f"/>
<circle cx="440.60" cy="197.80" r="1.0" fill="#1a1a1a"/>
<circle cx="443.60" cy="197.80" r="1.0" fill="#1a1a1a"/>
<circle cx="446.60" cy="197.80" r="1.0" fill="#1a1a1a"/>
<line x1="446.20" y1="219.70" x2="459.70" y2="219.70" stroke="#b0062f" stroke-width="1.8"/>
<circle cx="452.95" cy="219.70" r="2.3" fill="#b0062f"/>
<line x1="446.20" y1="230.70" x2="459.70" y2="230.70" stroke="#2c4e80" stroke-width="1.8"/>
<circle cx="452.95" cy="230.70" r="2.3" fill="#2c4e80"/>
<text x="462.00" y="222.70" font-size="8.5" textLength="10.5" lengthAdjust="spacingAndGlyphs" >WT</text>
<text x="462.00" y="233.70" font-size="8.5" textLength="45.5" lengthAdjust="spacingAndGlyphs" >ER-mTOR KO</text>
<text x="396.30" y="205.20" font-size="8.9" text-anchor="middle" textLength="19.2" lengthAdjust="spacingAndGlyphs" transform="rotate(-90 396.30 205.20)" fill="#1e1e1e">No. of</text>
<text x="407.40" y="205.60" font-size="8.9" text-anchor="middle" textLength="75.0" lengthAdjust="spacingAndGlyphs" transform="rotate(-90 407.40 205.60)" fill="#1e1e1e">CD11b<tspan dy="-3.6" font-size="6">+</tspan><tspan dy="3.6">F4/80</tspan><tspan dy="-3.6" font-size="6">+</tspan><tspan dy="3.6">(X10</tspan><tspan dy="-3.6" font-size="6">5</tspan><tspan dy="3.6">)</tspan></text>
<line x1="50.80" y1="256.20" x2="505.20" y2="256.20" stroke="#000" stroke-width="1.5"/>
<text x="278.20" y="267.60" font-size="9.4" text-anchor="middle" textLength="78.5" lengthAdjust="spacingAndGlyphs" >Conc. of pimozide (&#956;M)</text>
<text x="7.70" y="296.00" font-size="10.5" font-weight="bold" fill="#111" class="pl">H</text>
<text x="71.50" y="305.60" font-size="8.6" text-anchor="middle" textLength="26.3" lengthAdjust="spacingAndGlyphs" >Control</text>
<text x="129.00" y="305.60" font-size="8.6" text-anchor="middle" textLength="32.7" lengthAdjust="spacingAndGlyphs" >Pimozide</text>
<text x="41.20" y="334.40" font-size="8.6" text-anchor="end" textLength="11.5" lengthAdjust="spacingAndGlyphs" >WT</text>
<text x="41.80" y="382.30" font-size="8.6" text-anchor="end" textLength="34.6" lengthAdjust="spacingAndGlyphs" >ER-mTOR</text>
<clipPath id="mc1"><rect x="44.40" y="310.10" width="54.00" height="43.60"/></clipPath>
<rect x="44.40" y="310.10" width="54.00" height="43.60" fill="#a3adbb"/>
<g clip-path="url(#mc1)">
<ellipse cx="70.00" cy="328.00" rx="22.00" ry="16.00" fill="url(#cl)" opacity="0.8"/>
<ellipse cx="70.00" cy="328.00" rx="11.00" ry="8.50" fill="none" stroke="#454d63" stroke-width="2.0" opacity="0.35" filter="url(#rb)"/>
<g filter="url(#sp)">
<circle cx="53.8" cy="331.6" r="0.67" fill="#dde4f0" opacity="0.50"/>
<circle cx="62.8" cy="324.8" r="0.53" fill="#3d4559" opacity="0.50"/>
<circle cx="79.3" cy="332.6" r="0.38" fill="#3d4559" opacity="0.47"/>
<circle cx="106.2" cy="335.1" r="0.69" fill="#3d4559" opacity="0.45"/>
<circle cx="71.3" cy="329.4" r="0.53" fill="#dde4f0" opacity="0.38"/>
<circle cx="70.2" cy="330.4" r="0.51" fill="#dde4f0" opacity="0.64"/>
<circle cx="51.3" cy="326.4" r="0.52" fill="#3d4559" opacity="0.41"/>
<circle cx="61.9" cy="360.9" r="0.70" fill="#3d4559" opacity="0.48"/>
<circle cx="66.2" cy="334.4" r="0.45" fill="#dde4f0" opacity="0.61"/>
<circle cx="49.3" cy="338.9" r="0.49" fill="#3d4559" opacity="0.51"/>
<circle cx="79.1" cy="328.0" r="0.67" fill="#dde4f0" opacity="0.69"/>
<circle cx="65.9" cy="330.2" r="0.57" fill="#3d4559" opacity="0.37"/>
<circle cx="80.1" cy="332.5" r="0.69" fill="#3d4559" opacity="0.33"/>
<circle cx="70.1" cy="332.4" r="0.37" fill="#3d4559" opacity="0.34"/>
<circle cx="56.6" cy="324.2" r="0.42" fill="#3d4559" opacity="0.33"/>
<circle cx="65.9" cy="324.2" r="0.50" fill="#dde4f0" opacity="0.41"/>
<circle cx="93.4" cy="324.9" r="0.46" fill="#3d4559" opacity="0.35"/>
<circle cx="49.6" cy="339.6" r="0.57" fill="#dde4f0" opacity="0.70"/>
<circle cx="72.3" cy="335.2" r="0.62" fill="#dde4f0" opacity="0.42"/>
<circle cx="75.1" cy="329.9" r="0.55" fill="#dde4f0" opacity="0.54"/>
<circle cx="60.0" cy="335.6" r="0.69" fill="#dde4f0" opacity="0.53"/>
<circle cx="75.6" cy="323.5" r="0.40" fill="#3d4559" opacity="0.50"/>
<circle cx="70.0" cy="334.2" r="0.61" fill="#3d4559" opacity="0.35"/>
<circle cx="96.0" cy="321.9" r="0.56" fill="#dde4f0" opacity="0.34"/>
<circle cx="102.9" cy="333.9" r="0.43" fill="#3d4559" opacity="0.36"/>
<circle cx="77.9" cy="316.4" r="0.45" fill="#dde4f0" opacity="0.59"/>
<circle cx="78.6" cy="330.9" r="0.55" fill="#3d4559" opacity="0.45"/>
<circle cx="64.4" cy="349.1" r="0.42" fill="#dde4f0" opacity="0.41"/>
<circle cx="65.6" cy="329.1" r="0.41" fill="#dde4f0" opacity="0.53"/>
<circle cx="78.5" cy="334.7" r="0.66" fill="#3d4559" opacity="0.46"/>
<circle cx="63.7" cy="316.1" r="0.40" fill="#dde4f0" opacity="0.31"/>
<circle cx="87.3" cy="320.0" r="0.69" fill="#dde4f0" opacity="0.55"/>
<circle cx="48.8" cy="329.7" r="0.46" fill="#3d4559" opacity="0.32"/>
<circle cx="49.3" cy="323.5" r="0.67" fill="#3d4559" opacity="0.48"/>
<circle cx="77.9" cy="307.5" r="0.47" fill="#3d4559" opacity="0.53"/>
<circle cx="79.5" cy="320.8" r="0.63" fill="#3d4559" opacity="0.44"/>
<circle cx="60.8" cy="321.3" r="0.55" fill="#3d4559" opacity="0.32"/>
<circle cx="43.2" cy="304.7" r="0.66" fill="#3d4559" opacity="0.40"/>
<circle cx="68.4" cy="315.4" r="0.50" fill="#3d4559" opacity="0.32"/>
<circle cx="70.0" cy="325.6" r="0.56" fill="#dde4f0" opacity="0.39"/>
<circle cx="65.1" cy="317.3" r="0.57" fill="#3d4559" opacity="0.36"/>
<circle cx="81.1" cy="328.6" r="0.59" fill="#dde4f0" opacity="0.37"/>
<circle cx="86.1" cy="320.1" r="0.50" fill="#3d4559" opacity="0.38"/>
<circle cx="65.6" cy="322.5" r="0.50" fill="#3d4559" opacity="0.53"/>
<circle cx="79.5" cy="321.5" r="0.55" fill="#dde4f0" opacity="0.35"/>
<circle cx="44.9" cy="328.4" r="0.65" fill="#3d4559" opacity="0.54"/>
<circle cx="68.7" cy="333.8" r="0.51" fill="#dde4f0" opacity="0.39"/>
<circle cx="54.1" cy="334.9" r="0.52" fill="#dde4f0" opacity="0.64"/>
<circle cx="84.4" cy="326.8" r="0.38" fill="#dde4f0" opacity="0.65"/>
<circle cx="90.0" cy="331.9" r="0.55" fill="#dde4f0" opacity="0.62"/>
<circle cx="77.1" cy="328.6" r="0.51" fill="#dde4f0" opacity="0.63"/>
<circle cx="70.6" cy="333.3" r="0.37" fill="#3d4559" opacity="0.41"/>
<circle cx="56.8" cy="317.8" r="0.63" fill="#3d4559" opacity="0.47"/>
<circle cx="74.7" cy="338.4" r="0.41" fill="#dde4f0" opacity="0.49"/>
<circle cx="68.1" cy="322.1" r="0.45" fill="#dde4f0" opacity="0.58"/>
<circle cx="51.9" cy="326.3" r="0.61" fill="#dde4f0" opacity="0.62"/>
<circle cx="74.7" cy="325.7" r="0.68" fill="#3d4559" opacity="0.33"/>
<circle cx="52.3" cy="331.9" r="0.67" fill="#dde4f0" opacity="0.53"/>
<circle cx="87.1" cy="316.2" r="0.68" fill="#dde4f0" opacity="0.56"/>
<circle cx="75.9" cy="342.7" r="0.64" fill="#3d4559" opacity="0.48"/>
<circle cx="76.5" cy="348.1" r="0.69" fill="#3d4559" opacity="0.43"/>
<circle cx="72.9" cy="319.8" r="0.67" fill="#3d4559" opacity="0.39"/>
<circle cx="82.4" cy="333.1" r="0.54" fill="#3d4559" opacity="0.42"/>
<circle cx="93.6" cy="331.1" r="0.37" fill="#3d4559" opacity="0.34"/>
<circle cx="58.2" cy="342.6" r="0.40" fill="#dde4f0" opacity="0.51"/>
<circle cx="65.8" cy="309.9" r="0.59" fill="#3d4559" opacity="0.42"/>
<circle cx="75.3" cy="326.7" r="0.43" fill="#dde4f0" opacity="0.42"/>
<circle cx="67.5" cy="314.4" r="0.53" fill="#3d4559" opacity="0.44"/>
<circle cx="65.1" cy="336.7" r="0.65" fill="#3d4559" opacity="0.35"/>
<circle cx="90.5" cy="307.7" r="0.53" fill="#3d4559" opacity="0.35"/>
<circle cx="54.8" cy="325.5" r="0.56" fill="#dde4f0" opacity="0.69"/>
<circle cx="56.7" cy="327.0" r="0.63" fill="#3d4559" opacity="0.42"/>
<circle cx="68.2" cy="324.7" r="0.54" fill="#dde4f0" opacity="0.68"/>
<circle cx="79.3" cy="324.5" r="0.52" fill="#dde4f0" opacity="0.47"/>
<circle cx="81.4" cy="309.1" r="0.52" fill="#dde4f0" opacity="0.38"/>
<circle cx="47.8" cy="313.2" r="0.40" fill="#3d4559" opacity="0.31"/>
<circle cx="73.3" cy="334.5" r="0.59" fill="#dde4f0" opacity="0.44"/>
<circle cx="65.5" cy="324.9" r="0.61" fill="#dde4f0" opacity="0.50"/>
<circle cx="70.0" cy="334.4" r="0.54" fill="#dde4f0" opacity="0.45"/>
<circle cx="56.1" cy="334.1" r="0.41" fill="#dde4f0" opacity="0.55"/>
<circle cx="59.5" cy="319.0" r="0.65" fill="#3d4559" opacity="0.51"/>
<circle cx="72.4" cy="343.7" r="0.63" fill="#3d4559" opacity="0.38"/>
<circle cx="58.1" cy="347.9" r="0.43" fill="#3d4559" opacity="0.52"/>
<circle cx="76.5" cy="333.3" r="0.60" fill="#dde4f0" opacity="0.34"/>
<circle cx="76.8" cy="319.3" r="0.63" fill="#dde4f0" opacity="0.46"/>
<circle cx="69.0" cy="326.3" r="0.42" fill="#3d4559" opacity="0.53"/>
<circle cx="76.4" cy="327.1" r="0.53" fill="#3d4559" opacity="0.43"/>
<circle cx="66.6" cy="322.3" r="0.37" fill="#dde4f0" opacity="0.31"/>
<circle cx="55.0" cy="324.3" r="0.55" fill="#dde4f0" opacity="0.37"/>
<circle cx="77.2" cy="345.6" r="0.70" fill="#3d4559" opacity="0.32"/>
<circle cx="100.0" cy="337.0" r="0.51" fill="#3d4559" opacity="0.38"/>
<circle cx="54.5" cy="330.4" r="0.50" fill="#3d4559" opacity="0.30"/>
<circle cx="62.3" cy="310.4" r="0.41" fill="#dde4f0" opacity="0.60"/>
<circle cx="62.8" cy="331.5" r="0.41" fill="#dde4f0" opacity="0.31"/>
<circle cx="88.6" cy="317.3" r="0.60" fill="#3d4559" opacity="0.46"/>
<circle cx="55.3" cy="335.3" r="0.53" fill="#3d4559" opacity="0.50"/>
<circle cx="68.5" cy="349.1" r="0.61" fill="#3d4559" opacity="0.50"/>
<circle cx="46.7" cy="339.4" r="0.66" fill="#3d4559" opacity="0.49"/>
<circle cx="71.3" cy="318.3" r="0.60" fill="#dde4f0" opacity="0.44"/>
<circle cx="68.1" cy="328.3" r="0.47" fill="#3d4559" opacity="0.46"/>
<circle cx="73.6" cy="351.0" r="0.58" fill="#dde4f0" opacity="0.56"/>
<circle cx="55.2" cy="323.0" r="0.49" fill="#3d4559" opacity="0.46"/>
<circle cx="63.3" cy="312.5" r="0.69" fill="#dde4f0" opacity="0.55"/>
<circle cx="69.3" cy="320.6" r="0.49" fill="#dde4f0" opacity="0.38"/>
<circle cx="65.7" cy="331.1" r="0.44" fill="#3d4559" opacity="0.44"/>
<circle cx="35.5" cy="326.8" r="0.55" fill="#3d4559" opacity="0.46"/>
<circle cx="71.9" cy="324.4" r="0.56" fill="#3d4559" opacity="0.31"/>
<circle cx="77.1" cy="325.6" r="0.52" fill="#dde4f0" opacity="0.50"/>
<circle cx="66.5" cy="325.9" r="0.68" fill="#dde4f0" opacity="0.51"/>
<circle cx="59.7" cy="322.7" r="0.45" fill="#3d4559" opacity="0.44"/>
<circle cx="65.6" cy="342.9" r="0.45" fill="#dde4f0" opacity="0.40"/>
<circle cx="77.4" cy="329.5" r="0.61" fill="#dde4f0" opacity="0.66"/>
<circle cx="70.0" cy="324.9" r="0.70" fill="#3d4559" opacity="0.32"/>
<circle cx="81.6" cy="322.3" r="0.52" fill="#3d4559" opacity="0.36"/>
<circle cx="39.3" cy="324.7" r="0.60" fill="#dde4f0" opacity="0.69"/>
<circle cx="77.3" cy="316.1" r="0.39" fill="#3d4559" opacity="0.41"/>
<circle cx="71.2" cy="331.0" r="0.53" fill="#dde4f0" opacity="0.48"/>
<circle cx="62.8" cy="318.8" r="0.44" fill="#3d4559" opacity="0.40"/>
<circle cx="72.8" cy="316.4" r="0.70" fill="#3d4559" opacity="0.48"/>
<circle cx="70.5" cy="332.7" r="0.66" fill="#3d4559" opacity="0.46"/>
<circle cx="63.3" cy="333.9" r="0.59" fill="#3d4559" opacity="0.45"/>
<circle cx="55.2" cy="316.1" r="0.42" fill="#dde4f0" opacity="0.69"/>
<circle cx="93.4" cy="318.0" r="0.36" fill="#dde4f0" opacity="0.41"/>
<circle cx="53.6" cy="334.1" r="0.39" fill="#dde4f0" opacity="0.33"/>
<circle cx="87.0" cy="335.5" r="0.54" fill="#3d4559" opacity="0.39"/>
<circle cx="61.0" cy="328.9" r="0.47" fill="#3d4559" opacity="0.51"/>
<circle cx="76.0" cy="330.2" r="0.63" fill="#3d4559" opacity="0.49"/>
<circle cx="73.2" cy="337.8" r="0.44" fill="#3d4559" opacity="0.39"/>
<circle cx="47.4" cy="304.2" r="0.46" fill="#dde4f0" opacity="0.60"/>
<circle cx="82.3" cy="323.2" r="0.48" fill="#dde4f0" opacity="0.65"/>
<circle cx="74.8" cy="329.9" r="0.55" fill="#dde4f0" opacity="0.57"/>
<circle cx="63.1" cy="343.8" r="0.38" fill="#dde4f0" opacity="0.56"/>
<circle cx="79.8" cy="332.0" r="0.60" fill="#3d4559" opacity="0.37"/>
<circle cx="77.7" cy="335.1" r="0.60" fill="#dde4f0" opacity="0.35"/>
<circle cx="65.7" cy="315.9" r="0.67" fill="#3d4559" opacity="0.53"/>
<circle cx="48.0" cy="334.6" r="0.46" fill="#dde4f0" opacity="0.46"/>
<circle cx="95.7" cy="319.9" r="0.44" fill="#dde4f0" opacity="0.45"/>
<circle cx="61.3" cy="335.3" r="0.49" fill="#dde4f0" opacity="0.53"/>
<circle cx="74.8" cy="316.5" r="0.64" fill="#3d4559" opacity="0.34"/>
<circle cx="71.5" cy="308.2" r="0.45" fill="#dde4f0" opacity="0.51"/>
<circle cx="53.6" cy="324.6" r="0.69" fill="#3d4559" opacity="0.50"/>
<circle cx="85.3" cy="332.7" r="0.63" fill="#dde4f0" opacity="0.33"/>
<circle cx="67.7" cy="307.5" r="0.38" fill="#3d4559" opacity="0.34"/>
<circle cx="69.5" cy="314.1" r="0.44" fill="#dde4f0" opacity="0.61"/>
<circle cx="47.8" cy="325.8" r="0.49" fill="#dde4f0" opacity="0.69"/>
<circle cx="62.8" cy="318.1" r="0.54" fill="#3d4559" opacity="0.48"/>
<circle cx="81.7" cy="323.0" r="0.64" fill="#3d4559" opacity="0.51"/>
<circle cx="78.6" cy="310.9" r="0.66" fill="#3d4559" opacity="0.46"/>
<circle cx="49.5" cy="325.7" r="0.63" fill="#dde4f0" opacity="0.47"/>
<circle cx="83.2" cy="340.5" r="0.70" fill="#dde4f0" opacity="0.37"/>
<circle cx="73.9" cy="337.7" r="0.45" fill="#3d4559" opacity="0.31"/>
<circle cx="67.7" cy="332.4" r="0.58" fill="#3d4559" opacity="0.34"/>
<circle cx="83.5" cy="332.1" r="0.55" fill="#3d4559" opacity="0.31"/>
<circle cx="76.5" cy="331.9" r="0.43" fill="#dde4f0" opacity="0.59"/>
<circle cx="62.2" cy="324.2" r="0.41" fill="#dde4f0" opacity="0.37"/>
<circle cx="70.5" cy="319.7" r="0.54" fill="#3d4559" opacity="0.42"/>
<circle cx="68.2" cy="348.0" r="0.67" fill="#dde4f0" opacity="0.52"/>
<circle cx="84.6" cy="325.1" r="0.43" fill="#dde4f0" opacity="0.68"/>
<circle cx="74.1" cy="319.0" r="0.53" fill="#dde4f0" opacity="0.41"/>
<circle cx="89.3" cy="327.1" r="0.43" fill="#dde4f0" opacity="0.49"/>
<circle cx="53.7" cy="340.4" r="0.60" fill="#3d4559" opacity="0.34"/>
<circle cx="76.4" cy="335.1" r="0.44" fill="#3d4559" opacity="0.43"/>
<circle cx="42.8" cy="305.0" r="0.44" fill="#dde4f0" opacity="0.36"/>
<circle cx="70.1" cy="327.5" r="0.64" fill="#3d4559" opacity="0.51"/>
<circle cx="79.1" cy="331.8" r="0.60" fill="#dde4f0" opacity="0.49"/>
<circle cx="37.7" cy="332.7" r="0.56" fill="#3d4559" opacity="0.38"/>
<circle cx="73.4" cy="318.3" r="0.67" fill="#dde4f0" opacity="0.63"/>
<circle cx="74.3" cy="339.6" r="0.53" fill="#dde4f0" opacity="0.63"/>
<circle cx="65.7" cy="335.7" r="0.38" fill="#dde4f0" opacity="0.49"/>
<circle cx="67.3" cy="319.2" r="0.59" fill="#dde4f0" opacity="0.46"/>
<circle cx="36.5" cy="334.0" r="0.64" fill="#3d4559" opacity="0.30"/>
<circle cx="55.1" cy="338.5" r="0.43" fill="#3d4559" opacity="0.41"/>
<circle cx="110.7" cy="330.0" r="0.63" fill="#dde4f0" opacity="0.55"/>
<circle cx="66.8" cy="337.0" r="0.54" fill="#dde4f0" opacity="0.43"/>
<circle cx="54.8" cy="336.9" r="0.44" fill="#dde4f0" opacity="0.59"/>
<circle cx="54.8" cy="348.3" r="0.55" fill="#3d4559" opacity="0.38"/>
<circle cx="72.7" cy="324.3" r="0.40" fill="#dde4f0" opacity="0.57"/>
<circle cx="67.8" cy="322.2" r="0.49" fill="#3d4559" opacity="0.45"/>
<circle cx="78.0" cy="331.7" r="0.40" fill="#dde4f0" opacity="0.46"/>
<circle cx="96.7" cy="337.5" r="0.50" fill="#dde4f0" opacity="0.56"/>
<circle cx="72.6" cy="310.3" r="0.49" fill="#dde4f0" opacity="0.46"/>
<circle cx="83.3" cy="328.9" r="0.59" fill="#3d4559" opacity="0.50"/>
<circle cx="60.3" cy="316.9" r="0.36" fill="#dde4f0" opacity="0.44"/>
<circle cx="66.3" cy="324.3" r="0.48" fill="#dde4f0" opacity="0.62"/>
<circle cx="78.3" cy="316.2" r="0.41" fill="#3d4559" opacity="0.53"/>
<circle cx="58.3" cy="325.3" r="0.53" fill="#dde4f0" opacity="0.59"/>
<circle cx="85.8" cy="327.0" r="0.60" fill="#3d4559" opacity="0.35"/>
<circle cx="87.4" cy="323.4" r="0.42" fill="#dde4f0" opacity="0.40"/>
<circle cx="51.9" cy="321.1" r="0.47" fill="#3d4559" opacity="0.39"/>
<circle cx="63.4" cy="329.1" r="0.69" fill="#dde4f0" opacity="0.66"/>
<circle cx="53.7" cy="324.7" r="0.55" fill="#dde4f0" opacity="0.66"/>
<circle cx="94.3" cy="327.1" r="0.56" fill="#dde4f0" opacity="0.63"/>
<circle cx="63.2" cy="347.9" r="0.43" fill="#3d4559" opacity="0.51"/>
<circle cx="76.6" cy="339.1" r="0.38" fill="#dde4f0" opacity="0.37"/>
<circle cx="101.2" cy="326.1" r="0.58" fill="#dde4f0" opacity="0.57"/>
<circle cx="69.0" cy="318.6" r="0.56" fill="#3d4559" opacity="0.30"/>
<circle cx="74.6" cy="338.2" r="0.40" fill="#dde4f0" opacity="0.53"/>
<circle cx="77.4" cy="338.3" r="0.44" fill="#3d4559" opacity="0.38"/>
<circle cx="67.7" cy="325.9" r="0.58" fill="#dde4f0" opacity="0.68"/>
<circle cx="58.0" cy="321.6" r="0.49" fill="#3d4559" opacity="0.47"/>
<circle cx="71.1" cy="312.0" r="0.52" fill="#3d4559" opacity="0.51"/>
<circle cx="78.3" cy="320.2" r="0.50" fill="#3d4559" opacity="0.53"/>
<circle cx="54.1" cy="326.1" r="0.50" fill="#3d4559" opacity="0.38"/>
<circle cx="90.0" cy="333.2" r="0.67" fill="#3d4559" opacity="0.45"/>
<circle cx="70.1" cy="319.8" r="0.56" fill="#dde4f0" opacity="0.35"/>
<circle cx="55.3" cy="331.7" r="0.49" fill="#dde4f0" opacity="0.58"/>
<circle cx="60.4" cy="326.8" r="0.46" fill="#dde4f0" opacity="0.39"/>
<circle cx="96.4" cy="336.8" r="0.69" fill="#3d4559" opacity="0.52"/>
<circle cx="49.0" cy="336.2" r="0.43" fill="#3d4559" opacity="0.44"/>
<circle cx="74.9" cy="325.5" r="0.63" fill="#dde4f0" opacity="0.52"/>
<circle cx="70.4" cy="327.9" r="0.44" fill="#dde4f0" opacity="0.43"/>
<circle cx="95.9" cy="335.8" r="0.64" fill="#dde4f0" opacity="0.44"/>
<circle cx="66.5" cy="326.5" r="0.36" fill="#3d4559" opacity="0.38"/>
<circle cx="39.2" cy="328.2" r="0.69" fill="#dde4f0" opacity="0.38"/>
<circle cx="61.6" cy="348.8" r="0.66" fill="#dde4f0" opacity="0.64"/>
<circle cx="60.9" cy="336.6" r="0.41" fill="#3d4559" opacity="0.55"/>
<circle cx="75.5" cy="341.0" r="0.42" fill="#3d4559" opacity="0.31"/>
<circle cx="86.7" cy="337.5" r="0.46" fill="#3d4559" opacity="0.52"/>
<circle cx="68.4" cy="323.0" r="0.59" fill="#3d4559" opacity="0.41"/>
<circle cx="78.3" cy="331.2" r="0.46" fill="#3d4559" opacity="0.35"/>
<circle cx="74.1" cy="334.4" r="0.58" fill="#3d4559" opacity="0.39"/>
<circle cx="55.6" cy="311.0" r="0.56" fill="#dde4f0" opacity="0.42"/>
<circle cx="87.5" cy="321.7" r="0.45" fill="#3d4559" opacity="0.32"/>
<circle cx="84.1" cy="326.9" r="0.53" fill="#dde4f0" opacity="0.32"/>
<circle cx="61.2" cy="323.4" r="0.44" fill="#3d4559" opacity="0.32"/>
<circle cx="65.1" cy="343.7" r="0.44" fill="#dde4f0" opacity="0.52"/>
<circle cx="81.0" cy="346.9" r="0.70" fill="#dde4f0" opacity="0.48"/>
<circle cx="70.0" cy="318.5" r="0.68" fill="#dde4f0" opacity="0.37"/>
<circle cx="52.2" cy="323.2" r="0.48" fill="#3d4559" opacity="0.50"/>
<circle cx="54.4" cy="326.8" r="0.65" fill="#3d4559" opacity="0.43"/>
<circle cx="77.8" cy="326.2" r="0.62" fill="#dde4f0" opacity="0.54"/>
<circle cx="71.3" cy="338.3" r="0.62" fill="#3d4559" opacity="0.50"/>
<circle cx="71.3" cy="339.1" r="0.43" fill="#3d4559" opacity="0.42"/>
<circle cx="87.4" cy="330.8" r="0.60" fill="#3d4559" opacity="0.52"/>
<circle cx="73.2" cy="333.0" r="0.36" fill="#dde4f0" opacity="0.47"/>
<circle cx="60.4" cy="330.7" r="0.63" fill="#dde4f0" opacity="0.66"/>
<circle cx="55.0" cy="323.0" r="0.63" fill="#dde4f0" opacity="0.36"/>
<circle cx="68.5" cy="330.6" r="0.46" fill="#3d4559" opacity="0.43"/>
<circle cx="68.4" cy="340.7" r="0.38" fill="#3d4559" opacity="0.34"/>
<circle cx="69.8" cy="333.7" r="0.59" fill="#3d4559" opacity="0.50"/>
<circle cx="82.6" cy="331.7" r="0.48" fill="#dde4f0" opacity="0.69"/>
<circle cx="84.8" cy="330.9" r="0.62" fill="#3d4559" opacity="0.34"/>
<circle cx="49.0" cy="332.4" r="0.36" fill="#dde4f0" opacity="0.66"/>
<circle cx="78.3" cy="335.4" r="0.45" fill="#dde4f0" opacity="0.33"/>
<circle cx="113.0" cy="334.8" r="0.62" fill="#3d4559" opacity="0.36"/>
<circle cx="69.7" cy="340.2" r="0.43" fill="#dde4f0" opacity="0.67"/>
<circle cx="62.1" cy="334.6" r="0.69" fill="#3d4559" opacity="0.31"/>
<circle cx="54.3" cy="336.0" r="0.37" fill="#dde4f0" opacity="0.58"/>
<circle cx="81.6" cy="318.3" r="0.66" fill="#dde4f0" opacity="0.46"/>
<circle cx="77.1" cy="320.2" r="0.62" fill="#dde4f0" opacity="0.44"/>
<circle cx="76.8" cy="339.1" r="0.41" fill="#dde4f0" opacity="0.39"/>
<circle cx="58.9" cy="329.7" r="0.51" fill="#3d4559" opacity="0.47"/>
<circle cx="75.8" cy="323.1" r="0.48" fill="#dde4f0" opacity="0.58"/>
<circle cx="63.1" cy="333.8" r="0.36" fill="#dde4f0" opacity="0.40"/>
<circle cx="46.6" cy="341.6" r="0.60" fill="#dde4f0" opacity="0.44"/>
<circle cx="87.7" cy="346.5" r="0.48" fill="#3d4559" opacity="0.48"/>
<circle cx="72.2" cy="326.9" r="0.46" fill="#dde4f0" opacity="0.33"/>
<circle cx="78.7" cy="322.3" r="0.62" fill="#dde4f0" opacity="0.32"/>
<circle cx="62.3" cy="332.4" r="0.36" fill="#dde4f0" opacity="0.54"/>
<circle cx="81.2" cy="329.6" r="0.50" fill="#dde4f0" opacity="0.35"/>
<circle cx="67.2" cy="320.8" r="0.60" fill="#3d4559" opacity="0.34"/>
<circle cx="73.0" cy="335.5" r="0.60" fill="#dde4f0" opacity="0.45"/>
<circle cx="76.3" cy="322.9" r="0.45" fill="#dde4f0" opacity="0.39"/>
<circle cx="72.8" cy="328.5" r="0.57" fill="#3d4559" opacity="0.50"/>
<circle cx="81.0" cy="326.8" r="0.58" fill="#3d4559" opacity="0.35"/>
<circle cx="62.7" cy="314.8" r="0.68" fill="#3d4559" opacity="0.36"/>
<circle cx="66.1" cy="324.9" r="0.50" fill="#dde4f0" opacity="0.32"/>
<circle cx="61.2" cy="333.7" r="0.52" fill="#dde4f0" opacity="0.36"/>
<circle cx="57.7" cy="334.3" r="0.41" fill="#3d4559" opacity="0.36"/>
<circle cx="80.1" cy="332.8" r="0.50" fill="#dde4f0" opacity="0.53"/>
<circle cx="65.0" cy="316.4" r="0.60" fill="#dde4f0" opacity="0.46"/>
<circle cx="66.9" cy="330.6" r="0.49" fill="#dde4f0" opacity="0.50"/>
<circle cx="57.3" cy="322.5" r="0.46" fill="#dde4f0" opacity="0.31"/>
<circle cx="54.1" cy="344.6" r="0.55" fill="#dde4f0" opacity="0.57"/>
<circle cx="75.8" cy="337.9" r="0.57" fill="#3d4559" opacity="0.39"/>
<circle cx="42.0" cy="317.4" r="0.62" fill="#3d4559" opacity="0.46"/>
<circle cx="58.4" cy="333.3" r="0.45" fill="#3d4559" opacity="0.52"/>
<circle cx="48.7" cy="342.2" r="0.36" fill="#dde4f0" opacity="0.50"/>
<circle cx="65.5" cy="336.5" r="0.69" fill="#dde4f0" opacity="0.38"/>
<circle cx="72.7" cy="342.4" r="0.43" fill="#dde4f0" opacity="0.52"/>
<circle cx="62.3" cy="332.4" r="0.52" fill="#3d4559" opacity="0.44"/>
<circle cx="58.0" cy="319.3" r="0.64" fill="#3d4559" opacity="0.38"/>
<circle cx="54.3" cy="344.4" r="0.46" fill="#3d4559" opacity="0.47"/>
<circle cx="56.8" cy="305.2" r="0.64" fill="#dde4f0" opacity="0.55"/>
<circle cx="53.0" cy="328.7" r="0.48" fill="#dde4f0" opacity="0.60"/>
<circle cx="60.5" cy="326.5" r="0.44" fill="#dde4f0" opacity="0.37"/>
<circle cx="63.2" cy="327.6" r="0.37" fill="#dde4f0" opacity="0.34"/>
<circle cx="68.2" cy="323.5" r="0.51" fill="#3d4559" opacity="0.42"/>
<circle cx="83.8" cy="344.4" r="0.65" fill="#dde4f0" opacity="0.40"/>
<circle cx="46.5" cy="327.2" r="0.49" fill="#3d4559" opacity="0.36"/>
<circle cx="67.5" cy="319.7" r="0.47" fill="#3d4559" opacity="0.51"/>
<circle cx="78.1" cy="317.1" r="0.50" fill="#3d4559" opacity="0.46"/>
<circle cx="81.6" cy="312.9" r="0.39" fill="#dde4f0" opacity="0.57"/>
<circle cx="71.0" cy="334.1" r="0.35" fill="#3d4559" opacity="0.54"/>
<circle cx="77.0" cy="327.0" r="0.59" fill="#dde4f0" opacity="0.55"/>
<circle cx="45.5" cy="341.5" r="0.70" fill="#dde4f0" opacity="0.59"/>
<circle cx="72.9" cy="329.9" r="0.45" fill="#3d4559" opacity="0.55"/>
<circle cx="78.6" cy="333.9" r="0.36" fill="#dde4f0" opacity="0.49"/>
<circle cx="62.1" cy="333.9" r="0.63" fill="#3d4559" opacity="0.37"/>
<circle cx="55.8" cy="336.4" r="0.62" fill="#3d4559" opacity="0.40"/>
<circle cx="64.3" cy="316.7" r="0.63" fill="#dde4f0" opacity="0.37"/>
<circle cx="94.0" cy="341.9" r="0.44" fill="#dde4f0" opacity="0.35"/>
<circle cx="68.8" cy="329.7" r="0.55" fill="#dde4f0" opacity="0.55"/>
<circle cx="68.6" cy="334.8" r="0.52" fill="#dde4f0" opacity="0.40"/>
<circle cx="74.6" cy="329.1" r="0.66" fill="#dde4f0" opacity="0.33"/>
<circle cx="76.2" cy="338.1" r="0.70" fill="#dde4f0" opacity="0.65"/>
<circle cx="56.4" cy="329.0" r="0.63" fill="#dde4f0" opacity="0.32"/>
<circle cx="51.7" cy="323.6" r="0.57" fill="#dde4f0" opacity="0.68"/>
<circle cx="98.0" cy="304.8" r="0.51" fill="#3d4559" opacity="0.48"/>
<circle cx="71.4" cy="330.0" r="0.41" fill="#dde4f0" opacity="0.33"/>
<circle cx="56.0" cy="340.4" r="0.46" fill="#dde4f0" opacity="0.30"/>
<circle cx="78.3" cy="351.5" r="0.35" fill="#dde4f0" opacity="0.62"/>
<circle cx="75.7" cy="312.9" r="0.49" fill="#3d4559" opacity="0.51"/>
<circle cx="74.3" cy="300.1" r="0.39" fill="#3d4559" opacity="0.40"/>
<circle cx="67.2" cy="321.0" r="0.67" fill="#dde4f0" opacity="0.53"/>
<circle cx="71.9" cy="337.4" r="0.48" fill="#3d4559" opacity="0.50"/>
<circle cx="57.6" cy="338.3" r="0.47" fill="#dde4f0" opacity="0.66"/>
<circle cx="67.4" cy="331.8" r="0.47" fill="#3d4559" opacity="0.35"/>
<circle cx="69.3" cy="315.9" r="0.59" fill="#dde4f0" opacity="0.34"/>
<circle cx="77.6" cy="335.0" r="0.50" fill="#dde4f0" opacity="0.50"/>
<circle cx="60.5" cy="332.8" r="0.54" fill="#3d4559" opacity="0.35"/>
<circle cx="78.5" cy="322.2" r="0.61" fill="#dde4f0" opacity="0.70"/>
<circle cx="39.4" cy="338.5" r="0.43" fill="#dde4f0" opacity="0.58"/>
<circle cx="74.6" cy="334.9" r="0.59" fill="#3d4559" opacity="0.38"/>
<circle cx="75.0" cy="336.2" r="0.70" fill="#dde4f0" opacity="0.55"/>
<circle cx="56.3" cy="337.6" r="0.42" fill="#3d4559" opacity="0.52"/>
<circle cx="81.5" cy="317.4" r="0.53" fill="#3d4559" opacity="0.33"/>
<circle cx="80.6" cy="315.5" r="0.51" fill="#3d4559" opacity="0.40"/>
<circle cx="62.9" cy="332.6" r="0.56" fill="#3d4559" opacity="0.43"/>
<circle cx="88.2" cy="330.7" r="0.51" fill="#3d4559" opacity="0.45"/>
<circle cx="76.9" cy="325.7" r="0.51" fill="#3d4559" opacity="0.48"/>
<circle cx="61.7" cy="342.5" r="0.70" fill="#dde4f0" opacity="0.65"/>
<circle cx="98.0" cy="348.8" r="0.52" fill="#dde4f0" opacity="0.64"/>
<circle cx="51.6" cy="309.8" r="0.64" fill="#3d4559" opacity="0.43"/>
<circle cx="74.8" cy="327.9" r="0.65" fill="#3d4559" opacity="0.36"/>
<circle cx="75.1" cy="318.1" r="0.54" fill="#3d4559" opacity="0.35"/>
<circle cx="66.5" cy="341.6" r="0.38" fill="#3d4559" opacity="0.50"/>
<circle cx="60.2" cy="328.4" r="0.63" fill="#3d4559" opacity="0.49"/>
<circle cx="42.7" cy="321.6" r="0.63" fill="#dde4f0" opacity="0.45"/>
<circle cx="72.9" cy="329.5" r="0.47" fill="#3d4559" opacity="0.51"/>
</g>
</g>
<rect x="44.40" y="310.10" width="54.00" height="43.60" fill="none" stroke="#161616" stroke-width="1.6"/>
<clipPath id="mc2"><rect x="102.20" y="310.10" width="54.00" height="43.60"/></clipPath>
<rect x="102.20" y="310.10" width="54.00" height="43.60" fill="#aab3c5"/>
<g clip-path="url(#mc2)">
<ellipse cx="130.50" cy="327.50" rx="19.00" ry="13.00" fill="url(#cl)" opacity="0.8"/>
<ellipse cx="131.00" cy="327.00" rx="10.00" ry="9.00" fill="none" stroke="#454d63" stroke-width="2.2" opacity="0.55" filter="url(#rb)"/>
<g filter="url(#sp)">
<circle cx="136.6" cy="326.4" r="0.36" fill="#3d4559" opacity="0.35"/>
<circle cx="142.5" cy="335.3" r="0.47" fill="#3d4559" opacity="0.36"/>
<circle cx="140.2" cy="325.8" r="0.56" fill="#3d4559" opacity="0.47"/>
<circle cx="146.4" cy="321.9" r="0.37" fill="#3d4559" opacity="0.45"/>
<circle cx="127.7" cy="332.2" r="0.65" fill="#3d4559" opacity="0.53"/>
<circle cx="134.9" cy="307.8" r="0.55" fill="#3d4559" opacity="0.45"/>
<circle cx="129.0" cy="347.0" r="0.46" fill="#3d4559" opacity="0.54"/>
<circle cx="126.8" cy="324.0" r="0.64" fill="#3d4559" opacity="0.35"/>
<circle cx="143.9" cy="330.4" r="0.36" fill="#3d4559" opacity="0.43"/>
<circle cx="118.9" cy="326.6" r="0.58" fill="#3d4559" opacity="0.38"/>
<circle cx="119.9" cy="334.8" r="0.45" fill="#3d4559" opacity="0.44"/>
<circle cx="114.9" cy="332.2" r="0.53" fill="#dde4f0" opacity="0.70"/>
<circle cx="123.0" cy="334.0" r="0.49" fill="#3d4559" opacity="0.54"/>
<circle cx="119.0" cy="326.9" r="0.38" fill="#3d4559" opacity="0.34"/>
<circle cx="120.4" cy="325.4" r="0.46" fill="#dde4f0" opacity="0.38"/>
<circle cx="144.2" cy="329.7" r="0.63" fill="#3d4559" opacity="0.35"/>
<circle cx="129.2" cy="325.1" r="0.49" fill="#3d4559" opacity="0.53"/>
<circle cx="109.1" cy="331.2" r="0.52" fill="#dde4f0" opacity="0.53"/>
<circle cx="149.3" cy="326.8" r="0.52" fill="#3d4559" opacity="0.46"/>
<circle cx="118.4" cy="338.4" r="0.64" fill="#3d4559" opacity="0.54"/>
<circle cx="143.8" cy="328.5" r="0.57" fill="#dde4f0" opacity="0.37"/>
<circle cx="126.2" cy="319.7" r="0.44" fill="#dde4f0" opacity="0.69"/>
<circle cx="127.1" cy="330.6" r="0.43" fill="#dde4f0" opacity="0.65"/>
<circle cx="134.4" cy="333.2" r="0.38" fill="#dde4f0" opacity="0.38"/>
<circle cx="120.1" cy="338.1" r="0.67" fill="#3d4559" opacity="0.31"/>
<circle cx="114.6" cy="338.0" r="0.36" fill="#dde4f0" opacity="0.50"/>
<circle cx="116.5" cy="336.2" r="0.60" fill="#dde4f0" opacity="0.40"/>
<circle cx="131.6" cy="333.6" r="0.37" fill="#3d4559" opacity="0.34"/>
<circle cx="143.1" cy="320.3" r="0.37" fill="#dde4f0" opacity="0.54"/>
<circle cx="143.2" cy="329.9" r="0.36" fill="#3d4559" opacity="0.30"/>
<circle cx="108.1" cy="310.8" r="0.65" fill="#dde4f0" opacity="0.51"/>
<circle cx="137.2" cy="333.0" r="0.65" fill="#3d4559" opacity="0.30"/>
<circle cx="118.6" cy="335.1" r="0.41" fill="#3d4559" opacity="0.52"/>
<circle cx="120.2" cy="325.2" r="0.65" fill="#dde4f0" opacity="0.38"/>
<circle cx="129.3" cy="332.0" r="0.64" fill="#dde4f0" opacity="0.58"/>
<circle cx="143.1" cy="308.3" r="0.42" fill="#dde4f0" opacity="0.65"/>
<circle cx="131.3" cy="319.8" r="0.58" fill="#dde4f0" opacity="0.36"/>
<circle cx="141.1" cy="329.9" r="0.43" fill="#dde4f0" opacity="0.69"/>
<circle cx="138.8" cy="335.7" r="0.65" fill="#3d4559" opacity="0.43"/>
<circle cx="130.8" cy="325.9" r="0.68" fill="#3d4559" opacity="0.50"/>
<circle cx="132.9" cy="324.3" r="0.37" fill="#dde4f0" opacity="0.50"/>
<circle cx="153.6" cy="321.0" r="0.49" fill="#3d4559" opacity="0.48"/>
<circle cx="115.5" cy="345.5" r="0.68" fill="#3d4559" opacity="0.53"/>
<circle cx="135.7" cy="316.7" r="0.46" fill="#dde4f0" opacity="0.40"/>
<circle cx="154.8" cy="333.8" r="0.45" fill="#dde4f0" opacity="0.43"/>
<circle cx="140.4" cy="332.6" r="0.47" fill="#dde4f0" opacity="0.49"/>
<circle cx="121.3" cy="331.2" r="0.63" fill="#dde4f0" opacity="0.52"/>
<circle cx="151.3" cy="313.8" r="0.48" fill="#dde4f0" opacity="0.68"/>
<circle cx="122.5" cy="327.0" r="0.39" fill="#dde4f0" opacity="0.42"/>
<circle cx="132.8" cy="329.4" r="0.70" fill="#3d4559" opacity="0.33"/>
<circle cx="110.2" cy="329.2" r="0.53" fill="#dde4f0" opacity="0.44"/>
<circle cx="112.0" cy="339.3" r="0.55" fill="#dde4f0" opacity="0.55"/>
<circle cx="147.1" cy="331.1" r="0.63" fill="#3d4559" opacity="0.39"/>
<circle cx="130.1" cy="328.6" r="0.38" fill="#dde4f0" opacity="0.48"/>
<circle cx="131.9" cy="322.1" r="0.52" fill="#3d4559" opacity="0.46"/>
<circle cx="155.9" cy="329.8" r="0.55" fill="#dde4f0" opacity="0.40"/>
<circle cx="120.6" cy="310.7" r="0.47" fill="#dde4f0" opacity="0.52"/>
<circle cx="135.8" cy="334.6" r="0.67" fill="#3d4559" opacity="0.51"/>
<circle cx="128.8" cy="343.2" r="0.62" fill="#dde4f0" opacity="0.51"/>
<circle cx="124.3" cy="318.2" r="0.56" fill="#dde4f0" opacity="0.52"/>
<circle cx="118.0" cy="338.5" r="0.48" fill="#3d4559" opacity="0.45"/>
<circle cx="132.1" cy="335.5" r="0.39" fill="#3d4559" opacity="0.31"/>
<circle cx="122.8" cy="323.4" r="0.62" fill="#dde4f0" opacity="0.57"/>
<circle cx="128.6" cy="322.0" r="0.40" fill="#dde4f0" opacity="0.56"/>
<circle cx="130.4" cy="328.5" r="0.50" fill="#3d4559" opacity="0.34"/>
<circle cx="143.2" cy="324.1" r="0.41" fill="#dde4f0" opacity="0.45"/>
<circle cx="123.5" cy="328.2" r="0.38" fill="#dde4f0" opacity="0.40"/>
<circle cx="118.8" cy="330.4" r="0.59" fill="#3d4559" opacity="0.36"/>
<circle cx="140.1" cy="341.4" r="0.37" fill="#dde4f0" opacity="0.33"/>
<circle cx="137.1" cy="318.9" r="0.67" fill="#3d4559" opacity="0.38"/>
<circle cx="113.7" cy="332.9" r="0.43" fill="#3d4559" opacity="0.40"/>
<circle cx="140.6" cy="329.4" r="0.55" fill="#dde4f0" opacity="0.66"/>
<circle cx="142.7" cy="323.3" r="0.67" fill="#3d4559" opacity="0.43"/>
<circle cx="145.9" cy="343.7" r="0.67" fill="#dde4f0" opacity="0.45"/>
<circle cx="144.7" cy="332.3" r="0.65" fill="#dde4f0" opacity="0.42"/>
<circle cx="115.1" cy="318.5" r="0.41" fill="#dde4f0" opacity="0.56"/>
<circle cx="150.8" cy="331.2" r="0.46" fill="#3d4559" opacity="0.41"/>
<circle cx="131.6" cy="328.8" r="0.39" fill="#dde4f0" opacity="0.60"/>
<circle cx="134.9" cy="316.9" r="0.46" fill="#3d4559" opacity="0.48"/>
<circle cx="127.3" cy="329.9" r="0.51" fill="#dde4f0" opacity="0.38"/>
<circle cx="127.0" cy="329.5" r="0.66" fill="#dde4f0" opacity="0.66"/>
<circle cx="130.4" cy="326.4" r="0.66" fill="#3d4559" opacity="0.43"/>
<circle cx="140.2" cy="321.6" r="0.36" fill="#dde4f0" opacity="0.42"/>
<circle cx="144.0" cy="316.1" r="0.39" fill="#dde4f0" opacity="0.34"/>
<circle cx="131.9" cy="334.7" r="0.50" fill="#dde4f0" opacity="0.56"/>
<circle cx="131.7" cy="343.9" r="0.52" fill="#dde4f0" opacity="0.61"/>
<circle cx="125.6" cy="332.5" r="0.39" fill="#dde4f0" opacity="0.39"/>
<circle cx="129.5" cy="320.2" r="0.60" fill="#dde4f0" opacity="0.33"/>
<circle cx="126.7" cy="334.8" r="0.67" fill="#dde4f0" opacity="0.38"/>
<circle cx="135.4" cy="332.5" r="0.69" fill="#3d4559" opacity="0.36"/>
<circle cx="143.0" cy="330.3" r="0.55" fill="#dde4f0" opacity="0.47"/>
<circle cx="130.6" cy="327.1" r="0.60" fill="#3d4559" opacity="0.50"/>
<circle cx="117.8" cy="328.2" r="0.53" fill="#dde4f0" opacity="0.51"/>
<circle cx="131.2" cy="334.3" r="0.37" fill="#dde4f0" opacity="0.32"/>
<circle cx="122.4" cy="326.0" r="0.54" fill="#dde4f0" opacity="0.39"/>
<circle cx="141.2" cy="335.0" r="0.59" fill="#3d4559" opacity="0.43"/>
<circle cx="128.3" cy="326.7" r="0.46" fill="#3d4559" opacity="0.39"/>
<circle cx="140.0" cy="332.5" r="0.64" fill="#dde4f0" opacity="0.34"/>
<circle cx="107.4" cy="327.7" r="0.49" fill="#dde4f0" opacity="0.61"/>
<circle cx="138.4" cy="331.1" r="0.56" fill="#3d4559" opacity="0.52"/>
<circle cx="126.4" cy="333.0" r="0.48" fill="#dde4f0" opacity="0.41"/>
<circle cx="133.8" cy="305.9" r="0.44" fill="#dde4f0" opacity="0.60"/>
<circle cx="150.3" cy="324.6" r="0.49" fill="#3d4559" opacity="0.49"/>
<circle cx="130.0" cy="318.4" r="0.70" fill="#3d4559" opacity="0.36"/>
<circle cx="126.0" cy="328.9" r="0.48" fill="#3d4559" opacity="0.42"/>
<circle cx="110.9" cy="325.4" r="0.38" fill="#dde4f0" opacity="0.49"/>
<circle cx="113.2" cy="328.0" r="0.68" fill="#3d4559" opacity="0.44"/>
<circle cx="124.8" cy="318.6" r="0.70" fill="#3d4559" opacity="0.45"/>
<circle cx="121.1" cy="332.4" r="0.62" fill="#dde4f0" opacity="0.66"/>
<circle cx="126.6" cy="308.3" r="0.60" fill="#3d4559" opacity="0.39"/>
<circle cx="147.2" cy="328.8" r="0.61" fill="#3d4559" opacity="0.49"/>
<circle cx="147.4" cy="330.1" r="0.45" fill="#dde4f0" opacity="0.65"/>
<circle cx="119.9" cy="332.4" r="0.37" fill="#dde4f0" opacity="0.38"/>
<circle cx="133.5" cy="336.8" r="0.37" fill="#dde4f0" opacity="0.33"/>
<circle cx="127.4" cy="306.9" r="0.61" fill="#dde4f0" opacity="0.35"/>
<circle cx="131.8" cy="323.5" r="0.38" fill="#dde4f0" opacity="0.64"/>
<circle cx="122.0" cy="341.9" r="0.47" fill="#3d4559" opacity="0.48"/>
<circle cx="152.3" cy="310.6" r="0.64" fill="#dde4f0" opacity="0.51"/>
<circle cx="113.0" cy="324.0" r="0.43" fill="#3d4559" opacity="0.37"/>
<circle cx="135.5" cy="335.3" r="0.63" fill="#3d4559" opacity="0.39"/>
<circle cx="132.1" cy="334.8" r="0.49" fill="#dde4f0" opacity="0.42"/>
<circle cx="131.9" cy="333.9" r="0.59" fill="#3d4559" opacity="0.46"/>
<circle cx="145.5" cy="322.2" r="0.40" fill="#dde4f0" opacity="0.51"/>
<circle cx="130.2" cy="317.9" r="0.38" fill="#dde4f0" opacity="0.56"/>
<circle cx="133.2" cy="319.2" r="0.42" fill="#dde4f0" opacity="0.50"/>
<circle cx="130.5" cy="323.7" r="0.53" fill="#3d4559" opacity="0.44"/>
<circle cx="131.1" cy="330.9" r="0.36" fill="#dde4f0" opacity="0.66"/>
<circle cx="101.2" cy="338.7" r="0.64" fill="#3d4559" opacity="0.41"/>
<circle cx="110.3" cy="321.8" r="0.47" fill="#dde4f0" opacity="0.66"/>
<circle cx="122.9" cy="321.9" r="0.49" fill="#dde4f0" opacity="0.53"/>
<circle cx="133.5" cy="318.6" r="0.59" fill="#3d4559" opacity="0.38"/>
<circle cx="110.7" cy="311.6" r="0.60" fill="#dde4f0" opacity="0.57"/>
<circle cx="118.4" cy="316.9" r="0.60" fill="#3d4559" opacity="0.54"/>
<circle cx="133.8" cy="336.1" r="0.37" fill="#3d4559" opacity="0.33"/>
<circle cx="116.4" cy="332.3" r="0.50" fill="#dde4f0" opacity="0.50"/>
<circle cx="132.7" cy="336.4" r="0.60" fill="#dde4f0" opacity="0.48"/>
<circle cx="121.0" cy="320.4" r="0.63" fill="#3d4559" opacity="0.54"/>
<circle cx="137.2" cy="335.2" r="0.39" fill="#3d4559" opacity="0.40"/>
<circle cx="138.2" cy="320.2" r="0.63" fill="#dde4f0" opacity="0.55"/>
<circle cx="112.1" cy="335.1" r="0.39" fill="#dde4f0" opacity="0.58"/>
<circle cx="124.9" cy="334.9" r="0.49" fill="#3d4559" opacity="0.46"/>
<circle cx="141.3" cy="314.6" r="0.65" fill="#dde4f0" opacity="0.42"/>
<circle cx="106.4" cy="325.9" r="0.66" fill="#dde4f0" opacity="0.66"/>
<circle cx="130.8" cy="325.3" r="0.57" fill="#3d4559" opacity="0.31"/>
<circle cx="118.7" cy="335.3" r="0.53" fill="#dde4f0" opacity="0.34"/>
<circle cx="128.8" cy="343.2" r="0.47" fill="#dde4f0" opacity="0.54"/>
<circle cx="128.1" cy="335.4" r="0.53" fill="#3d4559" opacity="0.51"/>
<circle cx="136.5" cy="335.8" r="0.61" fill="#3d4559" opacity="0.43"/>
<circle cx="119.4" cy="319.2" r="0.58" fill="#3d4559" opacity="0.55"/>
<circle cx="136.4" cy="327.3" r="0.60" fill="#dde4f0" opacity="0.41"/>
<circle cx="150.8" cy="337.6" r="0.66" fill="#dde4f0" opacity="0.50"/>
<circle cx="137.7" cy="344.7" r="0.62" fill="#dde4f0" opacity="0.53"/>
<circle cx="139.4" cy="327.3" r="0.48" fill="#dde4f0" opacity="0.45"/>
<circle cx="142.4" cy="334.9" r="0.44" fill="#3d4559" opacity="0.42"/>
<circle cx="140.9" cy="316.7" r="0.65" fill="#dde4f0" opacity="0.62"/>
<circle cx="132.0" cy="321.1" r="0.35" fill="#dde4f0" opacity="0.61"/>
<circle cx="134.7" cy="326.9" r="0.44" fill="#dde4f0" opacity="0.33"/>
<circle cx="116.3" cy="315.6" r="0.64" fill="#dde4f0" opacity="0.66"/>
<circle cx="132.0" cy="323.1" r="0.65" fill="#3d4559" opacity="0.52"/>
<circle cx="130.6" cy="313.1" r="0.54" fill="#dde4f0" opacity="0.57"/>
<circle cx="124.0" cy="327.5" r="0.40" fill="#3d4559" opacity="0.53"/>
<circle cx="132.6" cy="328.0" r="0.59" fill="#dde4f0" opacity="0.65"/>
<circle cx="113.0" cy="330.4" r="0.37" fill="#3d4559" opacity="0.35"/>
<circle cx="118.6" cy="331.4" r="0.46" fill="#dde4f0" opacity="0.48"/>
<circle cx="136.8" cy="329.0" r="0.40" fill="#3d4559" opacity="0.38"/>
<circle cx="154.9" cy="325.8" r="0.41" fill="#3d4559" opacity="0.55"/>
<circle cx="118.2" cy="330.7" r="0.59" fill="#dde4f0" opacity="0.41"/>
<circle cx="129.6" cy="322.0" r="0.48" fill="#dde4f0" opacity="0.43"/>
<circle cx="132.6" cy="323.5" r="0.42" fill="#dde4f0" opacity="0.42"/>
<circle cx="134.3" cy="327.6" r="0.42" fill="#3d4559" opacity="0.49"/>
<circle cx="136.6" cy="316.2" r="0.70" fill="#dde4f0" opacity="0.58"/>
<circle cx="103.0" cy="333.7" r="0.50" fill="#3d4559" opacity="0.49"/>
<circle cx="149.4" cy="324.5" r="0.46" fill="#3d4559" opacity="0.50"/>
<circle cx="138.5" cy="325.3" r="0.61" fill="#3d4559" opacity="0.34"/>
<circle cx="141.2" cy="334.3" r="0.56" fill="#dde4f0" opacity="0.55"/>
<circle cx="139.4" cy="335.6" r="0.54" fill="#3d4559" opacity="0.48"/>
<circle cx="143.3" cy="332.3" r="0.39" fill="#dde4f0" opacity="0.57"/>
<circle cx="130.1" cy="326.5" r="0.54" fill="#dde4f0" opacity="0.50"/>
<circle cx="117.3" cy="327.9" r="0.62" fill="#dde4f0" opacity="0.49"/>
<circle cx="130.7" cy="332.7" r="0.57" fill="#dde4f0" opacity="0.62"/>
<circle cx="126.6" cy="330.2" r="0.63" fill="#dde4f0" opacity="0.42"/>
<circle cx="129.4" cy="326.3" r="0.60" fill="#3d4559" opacity="0.54"/>
<circle cx="122.3" cy="341.0" r="0.69" fill="#dde4f0" opacity="0.33"/>
<circle cx="119.2" cy="339.5" r="0.35" fill="#3d4559" opacity="0.43"/>
<circle cx="129.8" cy="320.0" r="0.68" fill="#dde4f0" opacity="0.47"/>
<circle cx="125.5" cy="336.9" r="0.43" fill="#dde4f0" opacity="0.48"/>
<circle cx="132.9" cy="326.6" r="0.45" fill="#dde4f0" opacity="0.59"/>
<circle cx="130.8" cy="326.1" r="0.62" fill="#3d4559" opacity="0.42"/>
<circle cx="113.8" cy="319.7" r="0.67" fill="#dde4f0" opacity="0.58"/>
<circle cx="140.0" cy="331.0" r="0.67" fill="#3d4559" opacity="0.43"/>
<circle cx="118.6" cy="330.4" r="0.36" fill="#3d4559" opacity="0.54"/>
<circle cx="132.7" cy="328.9" r="0.57" fill="#3d4559" opacity="0.41"/>
<circle cx="144.7" cy="333.1" r="0.58" fill="#dde4f0" opacity="0.63"/>
<circle cx="111.2" cy="323.8" r="0.43" fill="#dde4f0" opacity="0.57"/>
<circle cx="119.6" cy="314.3" r="0.68" fill="#3d4559" opacity="0.30"/>
<circle cx="114.0" cy="330.0" r="0.62" fill="#dde4f0" opacity="0.32"/>
<circle cx="124.0" cy="325.0" r="0.53" fill="#dde4f0" opacity="0.65"/>
<circle cx="144.8" cy="329.4" r="0.66" fill="#3d4559" opacity="0.34"/>
<circle cx="110.1" cy="323.2" r="0.57" fill="#3d4559" opacity="0.50"/>
<circle cx="126.2" cy="330.2" r="0.59" fill="#dde4f0" opacity="0.63"/>
<circle cx="113.4" cy="331.7" r="0.40" fill="#3d4559" opacity="0.52"/>
<circle cx="137.8" cy="315.0" r="0.58" fill="#dde4f0" opacity="0.43"/>
<circle cx="128.7" cy="333.9" r="0.55" fill="#dde4f0" opacity="0.56"/>
<circle cx="158.4" cy="311.9" r="0.35" fill="#3d4559" opacity="0.44"/>
<circle cx="113.6" cy="332.7" r="0.66" fill="#dde4f0" opacity="0.55"/>
<circle cx="137.2" cy="334.5" r="0.47" fill="#3d4559" opacity="0.53"/>
<circle cx="140.0" cy="320.6" r="0.60" fill="#3d4559" opacity="0.44"/>
<circle cx="136.4" cy="332.2" r="0.68" fill="#3d4559" opacity="0.33"/>
<circle cx="126.7" cy="330.8" r="0.39" fill="#dde4f0" opacity="0.42"/>
<circle cx="143.7" cy="328.6" r="0.68" fill="#dde4f0" opacity="0.46"/>
<circle cx="123.9" cy="331.7" r="0.46" fill="#dde4f0" opacity="0.47"/>
<circle cx="139.9" cy="323.7" r="0.66" fill="#dde4f0" opacity="0.55"/>
<circle cx="119.2" cy="328.4" r="0.66" fill="#3d4559" opacity="0.35"/>
<circle cx="126.5" cy="334.8" r="0.55" fill="#dde4f0" opacity="0.41"/>
<circle cx="118.4" cy="350.9" r="0.61" fill="#3d4559" opacity="0.52"/>
<circle cx="139.4" cy="335.0" r="0.60" fill="#dde4f0" opacity="0.51"/>
<circle cx="119.6" cy="319.3" r="0.41" fill="#dde4f0" opacity="0.41"/>
<circle cx="140.1" cy="329.0" r="0.36" fill="#dde4f0" opacity="0.56"/>
<circle cx="136.6" cy="339.1" r="0.50" fill="#3d4559" opacity="0.44"/>
<circle cx="138.8" cy="321.6" r="0.50" fill="#3d4559" opacity="0.47"/>
<circle cx="109.7" cy="334.4" r="0.61" fill="#3d4559" opacity="0.31"/>
<circle cx="134.7" cy="325.1" r="0.36" fill="#dde4f0" opacity="0.38"/>
<circle cx="131.2" cy="336.5" r="0.53" fill="#3d4559" opacity="0.52"/>
<circle cx="122.7" cy="312.8" r="0.50" fill="#dde4f0" opacity="0.58"/>
<circle cx="137.4" cy="327.4" r="0.56" fill="#dde4f0" opacity="0.69"/>
<circle cx="143.2" cy="329.3" r="0.48" fill="#dde4f0" opacity="0.60"/>
<circle cx="139.7" cy="327.5" r="0.69" fill="#dde4f0" opacity="0.31"/>
<circle cx="118.2" cy="319.8" r="0.67" fill="#3d4559" opacity="0.54"/>
<circle cx="129.6" cy="334.3" r="0.59" fill="#dde4f0" opacity="0.45"/>
<circle cx="137.8" cy="328.8" r="0.40" fill="#dde4f0" opacity="0.58"/>
<circle cx="133.7" cy="333.5" r="0.38" fill="#dde4f0" opacity="0.54"/>
<circle cx="117.3" cy="320.8" r="0.54" fill="#3d4559" opacity="0.50"/>
<circle cx="130.7" cy="327.3" r="0.68" fill="#dde4f0" opacity="0.70"/>
<circle cx="131.5" cy="318.8" r="0.37" fill="#dde4f0" opacity="0.61"/>
<circle cx="134.2" cy="327.6" r="0.59" fill="#3d4559" opacity="0.47"/>
<circle cx="156.7" cy="335.6" r="0.61" fill="#dde4f0" opacity="0.53"/>
<circle cx="126.7" cy="332.5" r="0.56" fill="#3d4559" opacity="0.31"/>
<circle cx="139.4" cy="310.5" r="0.38" fill="#3d4559" opacity="0.30"/>
<circle cx="129.4" cy="329.0" r="0.41" fill="#dde4f0" opacity="0.52"/>
<circle cx="103.1" cy="335.6" r="0.61" fill="#dde4f0" opacity="0.33"/>
<circle cx="126.7" cy="341.6" r="0.63" fill="#3d4559" opacity="0.52"/>
<circle cx="128.8" cy="317.6" r="0.64" fill="#3d4559" opacity="0.50"/>
<circle cx="140.7" cy="320.9" r="0.38" fill="#3d4559" opacity="0.48"/>
<circle cx="148.4" cy="323.4" r="0.66" fill="#3d4559" opacity="0.38"/>
<circle cx="143.7" cy="323.0" r="0.50" fill="#dde4f0" opacity="0.50"/>
<circle cx="114.8" cy="333.9" r="0.44" fill="#dde4f0" opacity="0.56"/>
<circle cx="148.6" cy="325.2" r="0.54" fill="#dde4f0" opacity="0.56"/>
<circle cx="132.4" cy="326.8" r="0.49" fill="#dde4f0" opacity="0.61"/>
<circle cx="130.1" cy="327.0" r="0.66" fill="#dde4f0" opacity="0.36"/>
<circle cx="134.1" cy="329.2" r="0.44" fill="#dde4f0" opacity="0.58"/>
<circle cx="138.4" cy="333.8" r="0.58" fill="#dde4f0" opacity="0.42"/>
<circle cx="118.4" cy="330.0" r="0.55" fill="#3d4559" opacity="0.38"/>
<circle cx="121.1" cy="313.6" r="0.69" fill="#3d4559" opacity="0.37"/>
<circle cx="142.6" cy="327.5" r="0.70" fill="#3d4559" opacity="0.48"/>
<circle cx="133.2" cy="332.4" r="0.40" fill="#dde4f0" opacity="0.68"/>
<circle cx="135.9" cy="341.4" r="0.54" fill="#dde4f0" opacity="0.48"/>
<circle cx="145.8" cy="331.2" r="0.67" fill="#dde4f0" opacity="0.69"/>
<circle cx="127.9" cy="334.6" r="0.59" fill="#dde4f0" opacity="0.31"/>
<circle cx="117.3" cy="327.5" r="0.41" fill="#dde4f0" opacity="0.35"/>
<circle cx="132.9" cy="331.6" r="0.58" fill="#3d4559" opacity="0.45"/>
<circle cx="132.4" cy="337.3" r="0.68" fill="#dde4f0" opacity="0.59"/>
<circle cx="149.9" cy="327.9" r="0.65" fill="#dde4f0" opacity="0.66"/>
<circle cx="114.1" cy="319.8" r="0.52" fill="#dde4f0" opacity="0.41"/>
<circle cx="112.3" cy="322.5" r="0.36" fill="#3d4559" opacity="0.31"/>
<circle cx="119.3" cy="317.8" r="0.67" fill="#3d4559" opacity="0.46"/>
<circle cx="123.5" cy="316.9" r="0.59" fill="#3d4559" opacity="0.51"/>
<circle cx="113.0" cy="342.6" r="0.42" fill="#dde4f0" opacity="0.32"/>
<circle cx="109.1" cy="322.9" r="0.39" fill="#3d4559" opacity="0.42"/>
<circle cx="127.0" cy="323.5" r="0.70" fill="#dde4f0" opacity="0.40"/>
<circle cx="128.0" cy="325.8" r="0.58" fill="#3d4559" opacity="0.33"/>
<circle cx="130.3" cy="333.7" r="0.42" fill="#3d4559" opacity="0.50"/>
<circle cx="113.6" cy="330.7" r="0.67" fill="#3d4559" opacity="0.39"/>
<circle cx="136.3" cy="324.4" r="0.64" fill="#dde4f0" opacity="0.43"/>
<circle cx="142.2" cy="333.6" r="0.39" fill="#3d4559" opacity="0.34"/>
<circle cx="124.3" cy="319.4" r="0.46" fill="#dde4f0" opacity="0.60"/>
<circle cx="134.1" cy="334.1" r="0.67" fill="#3d4559" opacity="0.48"/>
<circle cx="116.2" cy="316.1" r="0.64" fill="#3d4559" opacity="0.49"/>
<circle cx="114.0" cy="334.2" r="0.49" fill="#3d4559" opacity="0.31"/>
<circle cx="139.9" cy="337.2" r="0.38" fill="#dde4f0" opacity="0.65"/>
<circle cx="154.9" cy="314.8" r="0.63" fill="#dde4f0" opacity="0.54"/>
<circle cx="125.8" cy="327.2" r="0.41" fill="#3d4559" opacity="0.41"/>
<circle cx="107.6" cy="319.5" r="0.38" fill="#dde4f0" opacity="0.69"/>
<circle cx="138.6" cy="332.5" r="0.54" fill="#dde4f0" opacity="0.45"/>
<circle cx="141.0" cy="339.7" r="0.43" fill="#3d4559" opacity="0.41"/>
<circle cx="125.9" cy="327.4" r="0.66" fill="#dde4f0" opacity="0.65"/>
<circle cx="141.6" cy="328.4" r="0.51" fill="#3d4559" opacity="0.37"/>
<circle cx="141.0" cy="327.4" r="0.43" fill="#3d4559" opacity="0.46"/>
<circle cx="108.4" cy="315.4" r="0.66" fill="#dde4f0" opacity="0.66"/>
<circle cx="133.5" cy="325.8" r="0.53" fill="#3d4559" opacity="0.40"/>
<circle cx="123.7" cy="335.2" r="0.65" fill="#dde4f0" opacity="0.56"/>
<circle cx="123.0" cy="308.7" r="0.58" fill="#dde4f0" opacity="0.56"/>
<circle cx="129.8" cy="323.4" r="0.62" fill="#3d4559" opacity="0.45"/>
<circle cx="121.1" cy="318.8" r="0.40" fill="#dde4f0" opacity="0.30"/>
<circle cx="127.2" cy="332.5" r="0.56" fill="#dde4f0" opacity="0.35"/>
<circle cx="110.6" cy="325.9" r="0.52" fill="#dde4f0" opacity="0.67"/>
<circle cx="106.9" cy="321.2" r="0.61" fill="#3d4559" opacity="0.51"/>
<circle cx="130.2" cy="311.9" r="0.59" fill="#3d4559" opacity="0.53"/>
<circle cx="137.1" cy="335.2" r="0.68" fill="#3d4559" opacity="0.45"/>
<circle cx="126.4" cy="329.1" r="0.50" fill="#dde4f0" opacity="0.37"/>
<circle cx="118.6" cy="329.6" r="0.57" fill="#3d4559" opacity="0.49"/>
<circle cx="112.1" cy="321.7" r="0.36" fill="#dde4f0" opacity="0.68"/>
<circle cx="129.8" cy="312.8" r="0.69" fill="#dde4f0" opacity="0.50"/>
<circle cx="138.0" cy="323.0" r="0.53" fill="#dde4f0" opacity="0.33"/>
<circle cx="146.2" cy="320.6" r="0.62" fill="#3d4559" opacity="0.44"/>
<circle cx="141.2" cy="316.1" r="0.51" fill="#dde4f0" opacity="0.38"/>
<circle cx="110.1" cy="333.0" r="0.36" fill="#3d4559" opacity="0.35"/>
<circle cx="120.9" cy="327.3" r="0.36" fill="#3d4559" opacity="0.35"/>
<circle cx="112.6" cy="335.7" r="0.51" fill="#dde4f0" opacity="0.35"/>
<circle cx="151.1" cy="329.1" r="0.52" fill="#dde4f0" opacity="0.60"/>
<circle cx="122.4" cy="326.5" r="0.69" fill="#dde4f0" opacity="0.43"/>
<circle cx="142.3" cy="326.5" r="0.51" fill="#3d4559" opacity="0.46"/>
<circle cx="130.5" cy="330.0" r="0.37" fill="#dde4f0" opacity="0.60"/>
<circle cx="120.6" cy="334.3" r="0.45" fill="#dde4f0" opacity="0.69"/>
<circle cx="121.6" cy="317.2" r="0.57" fill="#dde4f0" opacity="0.63"/>
<circle cx="136.2" cy="323.4" r="0.65" fill="#3d4559" opacity="0.34"/>
<circle cx="133.4" cy="326.3" r="0.61" fill="#3d4559" opacity="0.34"/>
<circle cx="128.4" cy="328.0" r="0.54" fill="#dde4f0" opacity="0.50"/>
<circle cx="133.3" cy="332.2" r="0.58" fill="#dde4f0" opacity="0.36"/>
<circle cx="127.9" cy="334.9" r="0.59" fill="#3d4559" opacity="0.44"/>
<circle cx="127.4" cy="321.7" r="0.59" fill="#dde4f0" opacity="0.34"/>
</g>
</g>
<rect x="102.20" y="310.10" width="54.00" height="43.60" fill="none" stroke="#161616" stroke-width="1.6"/>
<clipPath id="mc3"><rect x="44.40" y="357.60" width="54.00" height="43.80"/></clipPath>
<rect x="44.40" y="357.60" width="54.00" height="43.80" fill="#b9c3db"/>
<g clip-path="url(#mc3)">
<ellipse cx="68.00" cy="385.00" rx="8.00" ry="5.00" fill="url(#cl)" opacity="0.15"/>
<g filter="url(#sp)">
<circle cx="61.9" cy="383.2" r="0.64" fill="#dde4f0" opacity="0.56"/>
<circle cx="76.1" cy="380.8" r="0.42" fill="#3d4559" opacity="0.45"/>
<circle cx="55.5" cy="384.8" r="0.53" fill="#dde4f0" opacity="0.68"/>
<circle cx="65.3" cy="383.1" r="0.46" fill="#dde4f0" opacity="0.32"/>
<circle cx="61.9" cy="381.9" r="0.50" fill="#3d4559" opacity="0.53"/>
<circle cx="61.2" cy="383.4" r="0.39" fill="#dde4f0" opacity="0.69"/>
</g>
</g>
<rect x="44.40" y="357.60" width="54.00" height="43.80" fill="none" stroke="#161616" stroke-width="1.6"/>
<clipPath id="mc4"><rect x="102.00" y="357.60" width="54.00" height="43.80"/></clipPath>
<rect x="102.00" y="357.60" width="54.00" height="43.80" fill="#9ea6bc"/>
<g clip-path="url(#mc4)">
<ellipse cx="131.00" cy="381.00" rx="11.00" ry="9.00" fill="url(#cl)" opacity="0.35"/>
<g filter="url(#sp)">
<circle cx="124.1" cy="384.7" r="0.65" fill="#dde4f0" opacity="0.39"/>
<circle cx="134.2" cy="381.5" r="0.35" fill="#dde4f0" opacity="0.51"/>
<circle cx="141.1" cy="380.5" r="0.48" fill="#dde4f0" opacity="0.58"/>
<circle cx="129.8" cy="382.9" r="0.64" fill="#3d4559" opacity="0.33"/>
<circle cx="133.7" cy="382.0" r="0.69" fill="#dde4f0" opacity="0.55"/>
<circle cx="132.7" cy="380.7" r="0.49" fill="#dde4f0" opacity="0.67"/>
<circle cx="132.9" cy="384.9" r="0.44" fill="#dde4f0" opacity="0.57"/>
<circle cx="133.9" cy="375.7" r="0.36" fill="#3d4559" opacity="0.48"/>
<circle cx="127.6" cy="377.0" r="0.64" fill="#3d4559" opacity="0.45"/>
<circle cx="126.3" cy="380.0" r="0.51" fill="#3d4559" opacity="0.47"/>
<circle cx="124.1" cy="389.2" r="0.64" fill="#dde4f0" opacity="0.36"/>
<circle cx="131.2" cy="381.9" r="0.61" fill="#3d4559" opacity="0.44"/>
<circle cx="137.2" cy="380.8" r="0.42" fill="#dde4f0" opacity="0.44"/>
<circle cx="135.7" cy="374.7" r="0.37" fill="#dde4f0" opacity="0.32"/>
<circle cx="128.6" cy="379.1" r="0.41" fill="#3d4559" opacity="0.51"/>
<circle cx="127.0" cy="377.9" r="0.58" fill="#dde4f0" opacity="0.30"/>
<circle cx="129.5" cy="389.2" r="0.57" fill="#dde4f0" opacity="0.64"/>
<circle cx="133.6" cy="377.2" r="0.69" fill="#dde4f0" opacity="0.33"/>
<circle cx="117.8" cy="380.2" r="0.56" fill="#dde4f0" opacity="0.50"/>
<circle cx="129.8" cy="385.5" r="0.49" fill="#dde4f0" opacity="0.68"/>
<circle cx="135.5" cy="382.8" r="0.68" fill="#3d4559" opacity="0.32"/>
<circle cx="122.1" cy="383.8" r="0.67" fill="#dde4f0" opacity="0.66"/>
<circle cx="131.7" cy="376.7" r="0.54" fill="#3d4559" opacity="0.36"/>
<circle cx="128.5" cy="374.4" r="0.38" fill="#dde4f0" opacity="0.46"/>
<circle cx="141.1" cy="391.0" r="0.44" fill="#dde4f0" opacity="0.54"/>
<circle cx="125.3" cy="380.2" r="0.46" fill="#dde4f0" opacity="0.66"/>
<circle cx="143.8" cy="386.7" r="0.68" fill="#3d4559" opacity="0.50"/>
<circle cx="118.5" cy="390.3" r="0.61" fill="#3d4559" opacity="0.41"/>
<circle cx="132.9" cy="389.1" r="0.61" fill="#dde4f0" opacity="0.42"/>
<circle cx="126.6" cy="380.2" r="0.40" fill="#dde4f0" opacity="0.31"/>
<circle cx="135.8" cy="384.7" r="0.53" fill="#3d4559" opacity="0.38"/>
<circle cx="141.3" cy="389.8" r="0.57" fill="#3d4559" opacity="0.47"/>
<circle cx="127.1" cy="387.5" r="0.46" fill="#3d4559" opacity="0.50"/>
<circle cx="142.7" cy="382.0" r="0.39" fill="#dde4f0" opacity="0.33"/>
<circle cx="119.0" cy="376.9" r="0.67" fill="#dde4f0" opacity="0.47"/>
<circle cx="143.9" cy="377.0" r="0.64" fill="#dde4f0" opacity="0.41"/>
<circle cx="134.1" cy="384.4" r="0.49" fill="#3d4559" opacity="0.46"/>
<circle cx="132.9" cy="384.0" r="0.51" fill="#3d4559" opacity="0.42"/>
<circle cx="133.4" cy="373.0" r="0.66" fill="#dde4f0" opacity="0.45"/>
<circle cx="119.5" cy="383.6" r="0.45" fill="#dde4f0" opacity="0.63"/>
<circle cx="121.6" cy="382.0" r="0.41" fill="#dde4f0" opacity="0.39"/>
<circle cx="129.5" cy="381.6" r="0.45" fill="#3d4559" opacity="0.41"/>
<circle cx="142.9" cy="381.3" r="0.46" fill="#dde4f0" opacity="0.56"/>
<circle cx="128.0" cy="376.9" r="0.60" fill="#3d4559" opacity="0.38"/>
<circle cx="130.3" cy="381.0" r="0.56" fill="#dde4f0" opacity="0.56"/>
<circle cx="131.3" cy="376.1" r="0.58" fill="#3d4559" opacity="0.34"/>
<circle cx="133.2" cy="375.1" r="0.68" fill="#dde4f0" opacity="0.45"/>
<circle cx="133.7" cy="384.6" r="0.66" fill="#dde4f0" opacity="0.44"/>
<circle cx="133.1" cy="380.6" r="0.36" fill="#3d4559" opacity="0.44"/>
<circle cx="134.8" cy="375.5" r="0.68" fill="#dde4f0" opacity="0.39"/>
<circle cx="137.1" cy="376.6" r="0.36" fill="#dde4f0" opacity="0.31"/>
<circle cx="129.8" cy="373.4" r="0.39" fill="#3d4559" opacity="0.49"/>
<circle cx="125.1" cy="375.8" r="0.50" fill="#3d4559" opacity="0.40"/>
<circle cx="138.9" cy="377.8" r="0.59" fill="#3d4559" opacity="0.55"/>
<circle cx="127.8" cy="380.5" r="0.53" fill="#3d4559" opacity="0.35"/>
<circle cx="130.8" cy="385.3" r="0.43" fill="#3d4559" opacity="0.43"/>
<circle cx="137.8" cy="384.3" r="0.59" fill="#dde4f0" opacity="0.38"/>
<circle cx="141.1" cy="381.7" r="0.49" fill="#dde4f0" opacity="0.40"/>
<circle cx="134.0" cy="387.6" r="0.50" fill="#dde4f0" opacity="0.43"/>
<circle cx="136.7" cy="382.2" r="0.57" fill="#dde4f0" opacity="0.54"/>
<circle cx="132.0" cy="382.3" r="0.62" fill="#3d4559" opacity="0.46"/>
<circle cx="136.5" cy="379.9" r="0.61" fill="#dde4f0" opacity="0.54"/>
<circle cx="137.1" cy="377.7" r="0.57" fill="#3d4559" opacity="0.42"/>
<circle cx="132.1" cy="394.4" r="0.59" fill="#dde4f0" opacity="0.41"/>
<circle cx="133.8" cy="381.3" r="0.69" fill="#3d4559" opacity="0.49"/>
<circle cx="131.8" cy="391.3" r="0.60" fill="#3d4559" opacity="0.42"/>
<circle cx="138.4" cy="377.5" r="0.40" fill="#3d4559" opacity="0.38"/>
<circle cx="138.4" cy="377.8" r="0.49" fill="#dde4f0" opacity="0.45"/>
<circle cx="132.8" cy="381.8" r="0.38" fill="#3d4559" opacity="0.39"/>
<circle cx="137.6" cy="381.8" r="0.57" fill="#3d4559" opacity="0.53"/>
<circle cx="121.3" cy="391.8" r="0.35" fill="#dde4f0" opacity="0.50"/>
<circle cx="126.8" cy="376.5" r="0.62" fill="#dde4f0" opacity="0.30"/>
<circle cx="123.7" cy="385.9" r="0.44" fill="#dde4f0" opacity="0.56"/>
<circle cx="112.0" cy="385.0" r="0.68" fill="#dde4f0" opacity="0.31"/>
<circle cx="134.1" cy="386.2" r="0.50" fill="#dde4f0" opacity="0.33"/>
<circle cx="128.9" cy="386.3" r="0.61" fill="#dde4f0" opacity="0.55"/>
<circle cx="122.7" cy="387.4" r="0.59" fill="#dde4f0" opacity="0.58"/>
<circle cx="122.5" cy="388.5" r="0.36" fill="#dde4f0" opacity="0.51"/>
<circle cx="129.2" cy="386.2" r="0.55" fill="#dde4f0" opacity="0.64"/>
<circle cx="128.8" cy="389.1" r="0.69" fill="#dde4f0" opacity="0.65"/>
<circle cx="134.3" cy="386.3" r="0.39" fill="#3d4559" opacity="0.38"/>
<circle cx="113.5" cy="379.7" r="0.40" fill="#dde4f0" opacity="0.58"/>
<circle cx="134.3" cy="381.8" r="0.44" fill="#dde4f0" opacity="0.44"/>
<circle cx="145.3" cy="385.4" r="0.53" fill="#dde4f0" opacity="0.60"/>
<circle cx="132.0" cy="392.1" r="0.36" fill="#dde4f0" opacity="0.45"/>
<circle cx="137.9" cy="369.8" r="0.69" fill="#dde4f0" opacity="0.45"/>
<circle cx="138.3" cy="373.1" r="0.68" fill="#dde4f0" opacity="0.32"/>
<circle cx="120.6" cy="387.0" r="0.59" fill="#dde4f0" opacity="0.57"/>
<circle cx="119.2" cy="384.5" r="0.45" fill="#3d4559" opacity="0.34"/>
<circle cx="126.2" cy="378.5" r="0.47" fill="#dde4f0" opacity="0.31"/>
</g>
</g>
<rect x="102.00" y="357.60" width="54.00" height="43.80" fill="none" stroke="#161616" stroke-width="1.6"/>
<text x="73.60" y="348.20" font-size="8.7" textLength="19.0" lengthAdjust="spacingAndGlyphs" fill="#111" style="stroke:#111;stroke-width:0.3px">100&#956;m</text>
<text x="130.30" y="348.20" font-size="8.7" textLength="19.0" lengthAdjust="spacingAndGlyphs" fill="#111" style="stroke:#111;stroke-width:0.3px">100&#956;m</text>
<text x="73.40" y="396.00" font-size="8.7" textLength="19.0" lengthAdjust="spacingAndGlyphs" fill="#111" style="stroke:#111;stroke-width:0.3px">100&#956;m</text>
<text x="130.00" y="396.00" font-size="8.7" textLength="19.0" lengthAdjust="spacingAndGlyphs" fill="#111" style="stroke:#111;stroke-width:0.3px">100&#956;m</text>
<line x1="85.00" y1="351.90" x2="90.00" y2="351.90" stroke="#7a8294" stroke-width="0.7"/>
<line x1="142.00" y1="351.90" x2="147.00" y2="351.90" stroke="#7a8294" stroke-width="0.7"/>
<line x1="85.00" y1="399.60" x2="90.00" y2="399.60" stroke="#7a8294" stroke-width="0.7"/>
<line x1="142.00" y1="399.60" x2="147.00" y2="399.60" stroke="#7a8294" stroke-width="0.7"/>
<text x="167.60" y="296.20" font-size="10.5" font-weight="bold" fill="#111" class="pl">I</text>
<line x1="204.40" y1="312.10" x2="204.40" y2="389.00" stroke="#000" stroke-width="1.45"/>
<line x1="201.20" y1="385.70" x2="204.40" y2="385.70" stroke="#111" stroke-width="1.1"/>
<text x="198.10" y="388.60" font-size="8.2" text-anchor="end" >0</text>
<line x1="201.20" y1="373.90" x2="204.40" y2="373.90" stroke="#111" stroke-width="1.1"/>
<text x="198.10" y="376.80" font-size="8.2" text-anchor="end" >200</text>
<line x1="201.20" y1="362.10" x2="204.40" y2="362.10" stroke="#111" stroke-width="1.1"/>
<text x="198.10" y="365.00" font-size="8.2" text-anchor="end" >400</text>
<line x1="201.20" y1="350.30" x2="204.40" y2="350.30" stroke="#111" stroke-width="1.1"/>
<text x="198.10" y="353.20" font-size="8.2" text-anchor="end" >600</text>
<line x1="201.20" y1="338.50" x2="204.40" y2="338.50" stroke="#111" stroke-width="1.1"/>
<text x="198.10" y="341.40" font-size="8.2" text-anchor="end" >800</text>
<line x1="201.20" y1="326.70" x2="204.40" y2="326.70" stroke="#111" stroke-width="1.1"/>
<text x="198.10" y="329.60" font-size="8.2" text-anchor="end" >1000</text>
<line x1="201.20" y1="314.90" x2="204.40" y2="314.90" stroke="#111" stroke-width="1.1"/>
<text x="198.10" y="317.80" font-size="8.2" text-anchor="end" >1200</text>
<line x1="203.70" y1="385.70" x2="277.50" y2="385.70" stroke="#000" stroke-width="1.45"/>
<line x1="241.00" y1="385.70" x2="241.00" y2="388.50" stroke="#111" stroke-width="1.1"/>
<line x1="217.25" y1="338.50" x2="217.25" y2="334.37" stroke="#111" stroke-width="1.2"/>
<line x1="215.55" y1="334.37" x2="218.95" y2="334.37" stroke="#111" stroke-width="1.2"/>
<rect x="212.10" y="338.50" width="10.90" height="47.20" fill="#b0062f" />
<line x1="227.70" y1="322.45" x2="227.70" y2="319.15" stroke="#111" stroke-width="1.2"/>
<line x1="226.00" y1="319.15" x2="229.40" y2="319.15" stroke="#111" stroke-width="1.2"/>
<rect x="222.40" y="322.45" width="10.60" height="63.25" fill="#2c4e80" />
<line x1="253.90" y1="351.77" x2="253.90" y2="350.89" stroke="#111" stroke-width="1.2"/>
<line x1="252.20" y1="350.89" x2="255.60" y2="350.89" stroke="#111" stroke-width="1.2"/>
<rect x="248.60" y="351.77" width="11.20" height="33.93" fill="#b0062f" />
<line x1="264.50" y1="335.43" x2="264.50" y2="328.71" stroke="#111" stroke-width="1.2"/>
<line x1="262.80" y1="328.71" x2="266.20" y2="328.71" stroke="#111" stroke-width="1.2"/>
<rect x="259.20" y="335.43" width="10.60" height="50.27" fill="#2c4e80" />
<line x1="250.10" y1="324.50" x2="261.50" y2="324.50" stroke="#111" stroke-width="1.6"/>
<circle cx="262.65" cy="320.80" r="1.15" fill="#1a1a1a"/>
<circle cx="265.75" cy="320.80" r="1.15" fill="#1a1a1a"/>
<rect x="233.50" y="303.10" width="4.50" height="4.50" fill="#b0062f" />
<rect x="233.50" y="312.80" width="4.50" height="4.50" fill="#2c4e80" />
<text x="241.40" y="307.70" font-size="8.5" textLength="24.5" lengthAdjust="spacingAndGlyphs" >Control</text>
<text x="241.40" y="317.40" font-size="8.5" textLength="30.0" lengthAdjust="spacingAndGlyphs" >Pimozide</text>
<text x="222.20" y="399.10" font-size="8.4" text-anchor="middle" textLength="12.0" lengthAdjust="spacingAndGlyphs" >WT</text>
<text x="259.30" y="399.10" font-size="8.4" text-anchor="middle" textLength="34.2" lengthAdjust="spacingAndGlyphs" >ER-mTOR</text>
<text x="259.30" y="408.30" font-size="8.4" text-anchor="middle" textLength="11.0" lengthAdjust="spacingAndGlyphs" >KO</text>
<text x="177.00" y="348.60" font-size="8.7" text-anchor="middle" textLength="55.4" lengthAdjust="spacingAndGlyphs" transform="rotate(-90 177.00 348.60)" fill="#1e1e1e">Number of CFUs</text>
<text x="288.50" y="296.00" font-size="10.5" font-weight="bold" fill="#111" class="pl">J</text>
<line x1="323.30" y1="305.70" x2="323.30" y2="388.80" stroke="#000" stroke-width="1.45"/>
<line x1="320.10" y1="385.50" x2="323.30" y2="385.50" stroke="#111" stroke-width="1.1"/>
<text x="317.50" y="388.40" font-size="8.2" text-anchor="end" >0</text>
<line x1="320.10" y1="370.10" x2="323.30" y2="370.10" stroke="#111" stroke-width="1.1"/>
<text x="317.50" y="373.00" font-size="8.2" text-anchor="end" >0.5</text>
<line x1="320.10" y1="354.70" x2="323.30" y2="354.70" stroke="#111" stroke-width="1.1"/>
<text x="317.50" y="357.60" font-size="8.2" text-anchor="end" >1</text>
<line x1="320.10" y1="339.30" x2="323.30" y2="339.30" stroke="#111" stroke-width="1.1"/>
<text x="317.50" y="342.20" font-size="8.2" text-anchor="end" >1.5</text>
<line x1="320.10" y1="323.90" x2="323.30" y2="323.90" stroke="#111" stroke-width="1.1"/>
<text x="317.50" y="326.80" font-size="8.2" text-anchor="end" >2</text>
<line x1="320.10" y1="308.50" x2="323.30" y2="308.50" stroke="#111" stroke-width="1.1"/>
<text x="317.50" y="311.40" font-size="8.2" text-anchor="end" >2.5</text>
<line x1="322.60" y1="385.50" x2="394.80" y2="385.50" stroke="#000" stroke-width="1.45"/>
<line x1="357.00" y1="385.50" x2="357.00" y2="388.30" stroke="#111" stroke-width="1.1"/>
<line x1="392.00" y1="385.50" x2="392.00" y2="388.30" stroke="#111" stroke-width="1.1"/>
<line x1="335.45" y1="325.75" x2="335.45" y2="314.66" stroke="#111" stroke-width="1.2"/>
<line x1="333.75" y1="314.66" x2="337.15" y2="314.66" stroke="#111" stroke-width="1.2"/>
<rect x="330.70" y="325.75" width="10.10" height="59.75" fill="#b0062f" />
<line x1="345.45" y1="330.98" x2="345.45" y2="321.74" stroke="#111" stroke-width="1.2"/>
<line x1="343.75" y1="321.74" x2="347.15" y2="321.74" stroke="#111" stroke-width="1.2"/>
<rect x="340.20" y="330.98" width="10.50" height="54.52" fill="#2c4e80" />
<line x1="369.85" y1="377.18" x2="369.85" y2="374.10" stroke="#111" stroke-width="1.2"/>
<line x1="368.15" y1="374.10" x2="371.55" y2="374.10" stroke="#111" stroke-width="1.2"/>
<rect x="365.00" y="377.18" width="10.30" height="8.32" fill="#b0062f" />
<line x1="379.70" y1="352.85" x2="379.70" y2="347.92" stroke="#111" stroke-width="1.2"/>
<line x1="378.00" y1="347.92" x2="381.40" y2="347.92" stroke="#111" stroke-width="1.2"/>
<rect x="374.70" y="352.85" width="10.00" height="32.65" fill="#2c4e80" />
<line x1="368.10" y1="343.20" x2="382.70" y2="343.20" stroke="#111" stroke-width="1.6"/>
<circle cx="376.70" cy="339.00" r="1.15" fill="#1a1a1a"/>
<circle cx="379.80" cy="339.00" r="1.15" fill="#1a1a1a"/>
<circle cx="382.90" cy="339.00" r="1.15" fill="#1a1a1a"/>
<rect x="354.20" y="303.00" width="4.50" height="4.50" fill="#b0062f" />
<rect x="354.20" y="311.90" width="4.50" height="4.50" fill="#2c4e80" />
<text x="362.00" y="307.60" font-size="8.5" textLength="24.5" lengthAdjust="spacingAndGlyphs" >Control</text>
<text x="362.00" y="316.50" font-size="8.5" textLength="30.0" lengthAdjust="spacingAndGlyphs" >Pimozide</text>
<text x="339.50" y="399.10" font-size="8.4" text-anchor="middle" textLength="12.0" lengthAdjust="spacingAndGlyphs" >WT</text>
<text x="375.30" y="399.10" font-size="8.4" text-anchor="middle" textLength="34.2" lengthAdjust="spacingAndGlyphs" >ER-mTOR</text>
<text x="375.30" y="408.30" font-size="8.4" text-anchor="middle" textLength="11.0" lengthAdjust="spacingAndGlyphs" >KO</text>
<text x="300.60" y="345.50" font-size="8.7" text-anchor="middle" textLength="86.5" lengthAdjust="spacingAndGlyphs" transform="rotate(-90 300.60 345.50)" fill="#1e1e1e">Cell number per CFU(10<tspan dy="-3.6" font-size="6">3</tspan><tspan dy="3.6">)</tspan></text>
<text x="407.20" y="296.00" font-size="10.5" font-weight="bold" fill="#111" class="pl">K</text>
<line x1="437.40" y1="307.80" x2="437.40" y2="388.80" stroke="#000" stroke-width="1.45"/>
<line x1="434.20" y1="385.50" x2="437.40" y2="385.50" stroke="#111" stroke-width="1.1"/>
<text x="431.90" y="388.40" font-size="8.2" text-anchor="end" >0</text>
<line x1="434.20" y1="374.80" x2="437.40" y2="374.80" stroke="#111" stroke-width="1.1"/>
<text x="431.90" y="377.70" font-size="8.2" text-anchor="end" >0.2</text>
<line x1="434.20" y1="364.10" x2="437.40" y2="364.10" stroke="#111" stroke-width="1.1"/>
<text x="431.90" y="367.00" font-size="8.2" text-anchor="end" >0.4</text>
<line x1="434.20" y1="353.40" x2="437.40" y2="353.40" stroke="#111" stroke-width="1.1"/>
<text x="431.90" y="356.30" font-size="8.2" text-anchor="end" >0.6</text>
<line x1="434.20" y1="342.70" x2="437.40" y2="342.70" stroke="#111" stroke-width="1.1"/>
<text x="431.90" y="345.60" font-size="8.2" text-anchor="end" >0.8</text>
<line x1="434.20" y1="332.00" x2="437.40" y2="332.00" stroke="#111" stroke-width="1.1"/>
<text x="431.90" y="334.90" font-size="8.2" text-anchor="end" >1</text>
<line x1="434.20" y1="321.30" x2="437.40" y2="321.30" stroke="#111" stroke-width="1.1"/>
<text x="431.90" y="324.20" font-size="8.2" text-anchor="end" >1.2</text>
<line x1="434.20" y1="310.60" x2="437.40" y2="310.60" stroke="#111" stroke-width="1.1"/>
<text x="431.90" y="313.50" font-size="8.2" text-anchor="end" >1.4</text>
<line x1="436.70" y1="385.50" x2="507.90" y2="385.50" stroke="#000" stroke-width="1.45"/>
<line x1="470.40" y1="385.50" x2="470.40" y2="388.30" stroke="#111" stroke-width="1.1"/>
<line x1="504.60" y1="385.50" x2="504.60" y2="388.30" stroke="#111" stroke-width="1.1"/>
<rect x="444.40" y="332.00" width="10.50" height="53.50" fill="#b0062f" />
<line x1="459.10" y1="317.02" x2="459.10" y2="315.15" stroke="#111" stroke-width="1.2"/>
<line x1="457.40" y1="315.15" x2="460.80" y2="315.15" stroke="#111" stroke-width="1.2"/>
<rect x="454.30" y="317.02" width="9.60" height="68.48" fill="#2c4e80" />
<line x1="483.00" y1="367.85" x2="483.00" y2="367.31" stroke="#111" stroke-width="1.2"/>
<line x1="481.30" y1="367.31" x2="484.70" y2="367.31" stroke="#111" stroke-width="1.2"/>
<rect x="478.00" y="367.85" width="10.60" height="17.65" fill="#b0062f" />
<line x1="492.65" y1="344.31" x2="492.65" y2="343.77" stroke="#111" stroke-width="1.2"/>
<line x1="490.95" y1="343.77" x2="494.35" y2="343.77" stroke="#111" stroke-width="1.2"/>
<rect x="488.00" y="344.31" width="9.30" height="41.19" fill="#2c4e80" />
<line x1="481.00" y1="339.20" x2="497.80" y2="339.20" stroke="#111" stroke-width="1.6"/>
<circle cx="490.10" cy="336.20" r="1.15" fill="#1a1a1a"/>
<circle cx="493.20" cy="336.20" r="1.15" fill="#1a1a1a"/>
<circle cx="496.30" cy="336.20" r="1.15" fill="#1a1a1a"/>
<rect x="465.10" y="304.00" width="4.50" height="4.50" fill="#b0062f" />
<rect x="465.10" y="313.70" width="4.50" height="4.50" fill="#2c4e80" />
<text x="472.90" y="308.60" font-size="8.5" textLength="24.9" lengthAdjust="spacingAndGlyphs" >Control</text>
<text x="472.90" y="318.30" font-size="8.5" textLength="30.0" lengthAdjust="spacingAndGlyphs" >Pimozide</text>
<text x="453.70" y="399.40" font-size="8.4" text-anchor="middle" textLength="12.0" lengthAdjust="spacingAndGlyphs" >WT</text>
<text x="487.10" y="399.40" font-size="8.4" text-anchor="middle" textLength="34.2" lengthAdjust="spacingAndGlyphs" >ER-mTOR</text>
<text x="487.10" y="408.50" font-size="8.4" text-anchor="middle" textLength="11.0" lengthAdjust="spacingAndGlyphs" >KO</text>
<text x="415.40" y="344.60" font-size="8.8" text-anchor="middle" textLength="76.3" lengthAdjust="spacingAndGlyphs" transform="rotate(-90 415.40 344.60)" fill="#1e1e1e">IRF8 mRNA expression</text>
</svg></div></body></html>
